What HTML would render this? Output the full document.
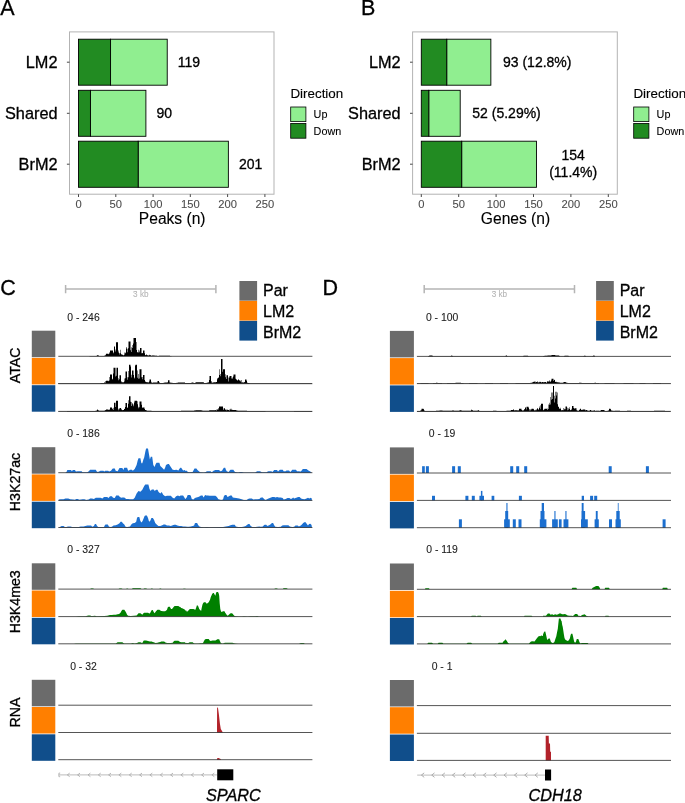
<!DOCTYPE html>
<html lang="en"><head><meta charset="utf-8"><title>Figure</title>
<style>html,body{margin:0;padding:0;background:#fff}body{width:685px;height:803px;overflow:hidden;font-family:"Liberation Sans", Arial, Helvetica, sans-serif}svg text{white-space:pre}</style></head>
<body>
<svg width="685" height="803" viewBox="0 0 685 803" font-family="'Liberation Sans', Arial, Helvetica, sans-serif" style="display:block"><rect width="685" height="803" fill="#fff"/><text x="0.2" y="15.0" font-size="21.5" fill="#000" stroke="#000" stroke-width="0.3">A</text><rect x="69.5" y="31.9" width="204.5" height="162.3" fill="#fff" stroke="#b3b3b3" stroke-width="1.0"/><rect x="110.56" y="39.20" width="56.67" height="46.00" fill="#90ee90" stroke="#000" stroke-width="0.9"/><rect x="78.50" y="39.20" width="32.06" height="46.00" fill="#228b22" stroke="#000" stroke-width="0.9"/><line x1="66.9" y1="62.2" x2="69.5" y2="62.2" stroke="#333" stroke-width="0.9"/><text x="57.5" y="67.9" font-size="16.3" text-anchor="end" fill="#000" stroke="#000" stroke-width="0.3">LM2</text><text x="177.8" y="67.1" font-size="14.0" fill="#000" stroke="#000" stroke-width="0.3">119</text><rect x="90.43" y="90.30" width="55.47" height="46.00" fill="#90ee90" stroke="#000" stroke-width="0.9"/><rect x="78.50" y="90.30" width="11.93" height="46.00" fill="#228b22" stroke="#000" stroke-width="0.9"/><line x1="66.9" y1="113.3" x2="69.5" y2="113.3" stroke="#333" stroke-width="0.9"/><text x="57.5" y="119.0" font-size="16.3" text-anchor="end" fill="#000" stroke="#000" stroke-width="0.3">Shared</text><text x="156.5" y="118.2" font-size="14.0" fill="#000" stroke="#000" stroke-width="0.3">90</text><rect x="138.15" y="141.20" width="90.22" height="46.10" fill="#90ee90" stroke="#000" stroke-width="0.9"/><rect x="78.50" y="141.20" width="59.65" height="46.10" fill="#228b22" stroke="#000" stroke-width="0.9"/><line x1="66.9" y1="164.2" x2="69.5" y2="164.2" stroke="#333" stroke-width="0.9"/><text x="57.5" y="169.9" font-size="16.3" text-anchor="end" fill="#000" stroke="#000" stroke-width="0.3">BrM2</text><text x="239.0" y="169.2" font-size="14.0" fill="#000" stroke="#000" stroke-width="0.3">201</text><line x1="78.5" y1="194.2" x2="78.5" y2="197.0" stroke="#333" stroke-width="0.9"/><text x="78.5" y="208.2" font-size="11.2" text-anchor="middle" fill="#4d4d4d" stroke="#4d4d4d" stroke-width="0.1">0</text><line x1="115.8" y1="194.2" x2="115.8" y2="197.0" stroke="#333" stroke-width="0.9"/><text x="115.8" y="208.2" font-size="11.2" text-anchor="middle" fill="#4d4d4d" stroke="#4d4d4d" stroke-width="0.1">50</text><line x1="153.1" y1="194.2" x2="153.1" y2="197.0" stroke="#333" stroke-width="0.9"/><text x="153.1" y="208.2" font-size="11.2" text-anchor="middle" fill="#4d4d4d" stroke="#4d4d4d" stroke-width="0.1">100</text><line x1="190.3" y1="194.2" x2="190.3" y2="197.0" stroke="#333" stroke-width="0.9"/><text x="190.3" y="208.2" font-size="11.2" text-anchor="middle" fill="#4d4d4d" stroke="#4d4d4d" stroke-width="0.1">150</text><line x1="227.6" y1="194.2" x2="227.6" y2="197.0" stroke="#333" stroke-width="0.9"/><text x="227.6" y="208.2" font-size="11.2" text-anchor="middle" fill="#4d4d4d" stroke="#4d4d4d" stroke-width="0.1">200</text><line x1="264.9" y1="194.2" x2="264.9" y2="197.0" stroke="#333" stroke-width="0.9"/><text x="264.9" y="208.2" font-size="11.2" text-anchor="middle" fill="#4d4d4d" stroke="#4d4d4d" stroke-width="0.1">250</text><text x="172.2" y="223.8" font-size="15.6" text-anchor="middle" fill="#000" stroke="#000" stroke-width="0.12">Peaks (n)</text><text x="290.4" y="98.3" font-size="13.4" fill="#000" stroke="#000" stroke-width="0.12">Direction</text><rect x="290.7" y="107.0" width="15.2" height="14.6" fill="#90ee90" stroke="#000" stroke-width="0.8"/><rect x="290.7" y="123.4" width="15.2" height="14.8" fill="#228b22" stroke="#000" stroke-width="0.8"/><text x="313.6" y="118.1" font-size="10.8" fill="#000" stroke="#000" stroke-width="0.1">Up</text><text x="313.6" y="134.8" font-size="10.8" fill="#000" stroke="#000" stroke-width="0.1">Down</text>
<text x="361.0" y="15.0" font-size="21.5" fill="#000" stroke="#000" stroke-width="0.3">B</text><rect x="412.6" y="31.9" width="204.7" height="162.3" fill="#fff" stroke="#b3b3b3" stroke-width="1.0"/><rect x="446.73" y="39.20" width="44.13" height="46.00" fill="#90ee90" stroke="#000" stroke-width="0.9"/><rect x="421.30" y="39.20" width="25.43" height="46.00" fill="#228b22" stroke="#000" stroke-width="0.9"/><line x1="410.0" y1="62.2" x2="412.6" y2="62.2" stroke="#333" stroke-width="0.9"/><text x="400.6" y="67.9" font-size="16.3" text-anchor="end" fill="#000" stroke="#000" stroke-width="0.3">LM2</text><text x="503.0" y="67.1" font-size="14.0" fill="#000" stroke="#000" stroke-width="0.3">93 (12.8%)</text><rect x="428.78" y="90.30" width="31.42" height="46.00" fill="#90ee90" stroke="#000" stroke-width="0.9"/><rect x="421.30" y="90.30" width="7.48" height="46.00" fill="#228b22" stroke="#000" stroke-width="0.9"/><line x1="410.0" y1="113.3" x2="412.6" y2="113.3" stroke="#333" stroke-width="0.9"/><text x="400.6" y="119.0" font-size="16.3" text-anchor="end" fill="#000" stroke="#000" stroke-width="0.3">Shared</text><text x="472.3" y="118.2" font-size="14.0" fill="#000" stroke="#000" stroke-width="0.3">52 (5.29%)</text><rect x="461.69" y="141.20" width="74.80" height="46.10" fill="#90ee90" stroke="#000" stroke-width="0.9"/><rect x="421.30" y="141.20" width="40.39" height="46.10" fill="#228b22" stroke="#000" stroke-width="0.9"/><line x1="410.0" y1="164.2" x2="412.6" y2="164.2" stroke="#333" stroke-width="0.9"/><text x="400.6" y="169.9" font-size="16.3" text-anchor="end" fill="#000" stroke="#000" stroke-width="0.3">BrM2</text><text x="573.2" y="159.8" font-size="14.0" text-anchor="middle" fill="#000" stroke="#000" stroke-width="0.3">154</text><text x="573.2" y="176.8" font-size="14.0" text-anchor="middle" fill="#000" stroke="#000" stroke-width="0.3">(11.4%)</text><line x1="421.3" y1="194.2" x2="421.3" y2="197.0" stroke="#333" stroke-width="0.9"/><text x="421.3" y="208.2" font-size="11.2" text-anchor="middle" fill="#4d4d4d" stroke="#4d4d4d" stroke-width="0.1">0</text><line x1="458.7" y1="194.2" x2="458.7" y2="197.0" stroke="#333" stroke-width="0.9"/><text x="458.7" y="208.2" font-size="11.2" text-anchor="middle" fill="#4d4d4d" stroke="#4d4d4d" stroke-width="0.1">50</text><line x1="496.1" y1="194.2" x2="496.1" y2="197.0" stroke="#333" stroke-width="0.9"/><text x="496.1" y="208.2" font-size="11.2" text-anchor="middle" fill="#4d4d4d" stroke="#4d4d4d" stroke-width="0.1">100</text><line x1="533.5" y1="194.2" x2="533.5" y2="197.0" stroke="#333" stroke-width="0.9"/><text x="533.5" y="208.2" font-size="11.2" text-anchor="middle" fill="#4d4d4d" stroke="#4d4d4d" stroke-width="0.1">150</text><line x1="570.9" y1="194.2" x2="570.9" y2="197.0" stroke="#333" stroke-width="0.9"/><text x="570.9" y="208.2" font-size="11.2" text-anchor="middle" fill="#4d4d4d" stroke="#4d4d4d" stroke-width="0.1">200</text><line x1="608.3" y1="194.2" x2="608.3" y2="197.0" stroke="#333" stroke-width="0.9"/><text x="608.3" y="208.2" font-size="11.2" text-anchor="middle" fill="#4d4d4d" stroke="#4d4d4d" stroke-width="0.1">250</text><text x="515.5" y="223.8" font-size="15.6" text-anchor="middle" fill="#000" stroke="#000" stroke-width="0.12">Genes (n)</text><text x="633.4" y="98.3" font-size="13.4" fill="#000" stroke="#000" stroke-width="0.12">Direction</text><rect x="633.7" y="107.0" width="15.2" height="14.6" fill="#90ee90" stroke="#000" stroke-width="0.8"/><rect x="633.7" y="123.4" width="15.2" height="14.8" fill="#228b22" stroke="#000" stroke-width="0.8"/><text x="656.6" y="118.1" font-size="10.8" fill="#000" stroke="#000" stroke-width="0.1">Up</text><text x="656.6" y="134.8" font-size="10.8" fill="#000" stroke="#000" stroke-width="0.1">Down</text>
<text x="0.2" y="294.7" font-size="21.5" fill="#000" stroke="#000" stroke-width="0.3">C</text><path d="M65.6 289.1H215.9 M65.6 285V293.3 M215.9 285V293.3" stroke="#b5b5b5" stroke-width="1.5" fill="none"/><text x="140.8" y="297.1" font-size="8.2" text-anchor="middle" fill="#b5b5b5" stroke="#b5b5b5" stroke-width="0.1">3 kb</text><rect x="239.4" y="281.0" width="17.7" height="19.7" fill="#6b6b6b"/><text x="263.0" y="295.7" font-size="16" fill="#000" stroke="#000" stroke-width="0.3">Par</text><rect x="239.4" y="300.9" width="17.7" height="19.7" fill="#ff7f00"/><text x="263.0" y="316.6" font-size="16" fill="#000" stroke="#000" stroke-width="0.3">LM2</text><rect x="239.4" y="320.9" width="17.7" height="19.7" fill="#104e8b"/><text x="263.0" y="337.5" font-size="16" fill="#000" stroke="#000" stroke-width="0.3">BrM2</text><rect x="31.8" y="330.7" width="23.5" height="26.5" fill="#6b6b6b"/><rect x="31.8" y="357.9" width="23.5" height="26.5" fill="#ff7f00"/><rect x="31.8" y="385.2" width="23.5" height="26.5" fill="#104e8b"/><text x="83.5" y="320.6" font-size="10.4" text-anchor="middle" fill="#1c1c1c" stroke="#1c1c1c" stroke-width="0.1">0 - 246</text><rect x="31.8" y="447.2" width="23.5" height="26.5" fill="#6b6b6b"/><rect x="31.8" y="474.4" width="23.5" height="26.5" fill="#ff7f00"/><rect x="31.8" y="501.7" width="23.5" height="26.5" fill="#104e8b"/><text x="83.5" y="437.1" font-size="10.4" text-anchor="middle" fill="#1c1c1c" stroke="#1c1c1c" stroke-width="0.1">0 - 186</text><rect x="31.8" y="563.3" width="23.5" height="26.5" fill="#6b6b6b"/><rect x="31.8" y="590.5" width="23.5" height="26.5" fill="#ff7f00"/><rect x="31.8" y="617.8" width="23.5" height="26.5" fill="#104e8b"/><text x="83.5" y="553.2" font-size="10.4" text-anchor="middle" fill="#1c1c1c" stroke="#1c1c1c" stroke-width="0.1">0 - 327</text><rect x="31.8" y="679.8" width="23.5" height="26.5" fill="#6b6b6b"/><rect x="31.8" y="707.0" width="23.5" height="26.5" fill="#ff7f00"/><rect x="31.8" y="734.3" width="23.5" height="26.5" fill="#104e8b"/><text x="83.5" y="669.7" font-size="10.4" text-anchor="middle" fill="#1c1c1c" stroke="#1c1c1c" stroke-width="0.1">0 - 32</text><text transform="translate(20.3 365.3) rotate(-90)" font-size="14.2" text-anchor="middle" fill="#000" stroke="#000" stroke-width="0.3">ATAC</text><text transform="translate(20.3 482.0) rotate(-90)" font-size="14.2" text-anchor="middle" fill="#000" stroke="#000" stroke-width="0.3">H3K27ac</text><text transform="translate(20.3 601.8) rotate(-90)" font-size="14.2" text-anchor="middle" fill="#000" stroke="#000" stroke-width="0.3">H3K4me3</text><text transform="translate(20.3 712.4) rotate(-90)" font-size="14.2" text-anchor="middle" fill="#000" stroke="#000" stroke-width="0.3">RNA</text><path d="M89.0 356.3L89.0 356.18L89.5 356.18L89.5 355.98L90.0 355.98L90.0 355.92L90.5 355.92L90.5 355.92L91.0 355.92L91.0 355.92L91.5 355.92L91.5 355.92L92.0 355.92L92.0 355.92L92.5 355.92L92.5 355.92L93.0 355.92L93.0 355.92L93.5 355.92L93.5 355.92L94.0 355.92L94.0 355.92L94.5 355.92L94.5 355.92L95.0 355.92L95.0 355.92L95.5 355.92L95.5 355.92L96.0 355.92L96.0 355.92L96.5 355.92L96.5 355.76L97.0 355.76L97.0 355.36L97.5 355.36L97.5 355.19L98.0 355.19L98.0 355.36L98.5 355.36L98.5 355.65L99.0 355.65L99.0 355.92L99.5 355.92L99.5 355.92L100.0 355.92L100.0 355.92L100.5 355.92L100.5 355.92L101.0 355.92L101.0 355.92L101.5 355.92L101.5 355.92L102.0 355.92L102.0 355.92L102.5 355.92L102.5 355.92L103.0 355.92L103.0 355.92L103.5 355.92L103.5 355.92L104.0 355.92L104.0 355.92L104.5 355.92L104.5 355.58L105.0 355.58L105.0 354.83L105.5 354.83L105.5 355.40L106.0 355.40L106.0 353.64L106.5 353.64L106.5 353.64L107.0 353.64L107.0 353.64L107.5 353.64L107.5 353.64L108.0 353.64L108.0 353.64L108.5 353.64L108.5 354.22L109.0 354.22L109.0 353.45L109.5 353.45L109.5 352.35L110.0 352.35L110.0 350.61L110.5 350.61L110.5 350.61L111.0 350.61L111.0 350.61L111.5 350.61L111.5 350.61L112.0 350.61L112.0 350.61L112.5 350.61L112.5 350.61L113.0 350.61L113.0 352.36L113.5 352.36L113.5 353.14L114.0 353.14L114.0 346.43L114.5 346.43L114.5 346.43L115.0 346.43L115.0 349.61L115.5 349.61L115.5 351.49L116.0 351.49L116.0 342.26L116.5 342.26L116.5 342.26L117.0 342.26L117.0 342.26L117.5 342.26L117.5 342.26L118.0 342.26L118.0 350.60L118.5 350.60L118.5 352.47L119.0 352.47L119.0 354.53L119.5 354.53L119.5 353.01L120.0 353.01L120.0 349.73L120.5 349.73L120.5 353.13L121.0 353.13L121.0 354.72L121.5 354.72L121.5 354.02L122.0 354.02L122.0 354.57L122.5 354.57L122.5 355.02L123.0 355.02L123.0 355.37L123.5 355.37L123.5 355.20L124.0 355.20L124.0 354.64L124.5 354.64L124.5 352.50L125.0 352.50L125.0 352.60L125.5 352.60L125.5 353.23L126.0 353.23L126.0 346.99L126.5 346.99L126.5 348.50L127.0 348.50L127.0 352.26L127.5 352.26L127.5 348.81L128.0 348.81L128.0 348.29L128.5 348.29L128.5 341.50L129.0 341.50L129.0 341.50L129.5 341.50L129.5 341.50L130.0 341.50L130.0 341.50L130.5 341.50L130.5 350.25L131.0 350.25L131.0 352.05L131.5 352.05L131.5 347.14L132.0 347.14L132.0 344.96L132.5 344.96L132.5 347.98L133.0 347.98L133.0 343.47L133.5 343.47L133.5 338.08L134.0 338.08L134.0 338.08L134.5 338.08L134.5 338.08L135.0 338.08L135.0 338.08L135.5 338.08L135.5 338.08L136.0 338.08L136.0 342.04L136.5 342.04L136.5 350.02L137.0 350.02L137.0 352.36L137.5 352.36L137.5 352.36L138.0 352.36L138.0 349.70L138.5 349.70L138.5 352.42L139.0 352.42L139.0 352.30L139.5 352.30L139.5 350.55L140.0 350.55L140.0 347.95L140.5 347.95L140.5 347.95L141.0 347.95L141.0 347.95L141.5 347.95L141.5 353.26L142.0 353.26L142.0 353.32L142.5 353.32L142.5 353.02L143.0 353.02L143.0 350.61L143.5 350.61L143.5 350.61L144.0 350.61L144.0 350.61L144.5 350.61L144.5 353.18L145.0 353.18L145.0 355.16L145.5 355.16L145.5 355.05L146.0 355.05L146.0 354.44L146.5 354.44L146.5 354.74L147.0 354.74L147.0 355.16L147.5 355.16L147.5 355.31L148.0 355.31L148.0 355.46L148.5 355.46L148.5 355.61L149.0 355.61L149.0 355.22L149.5 355.22L149.5 354.82L150.0 354.82L150.0 354.94L150.5 354.94L150.5 355.44L151.0 355.44L151.0 355.69L151.5 355.69L151.5 355.66L152.0 355.66L152.0 355.62L152.5 355.62L152.5 355.59L153.0 355.59L153.0 355.56L153.5 355.56L153.5 355.54L154.0 355.54L154.0 355.58L154.5 355.58L154.5 355.63L155.0 355.63L155.0 355.68L155.5 355.68L155.5 355.73L156.0 355.73L156.0 355.78L156.5 355.78L156.5 355.83L157.0 355.83L157.0 355.88L157.5 355.88L157.5 355.91L158.0 355.91L158.0 355.90L158.5 355.90L158.5 355.88L159.0 355.88L159.0 355.87L159.5 355.87L159.5 355.86L160.0 355.86L160.0 355.85L160.5 355.85L160.5 355.83L161.0 355.83L161.0 355.82L161.5 355.82L161.5 355.81L162.0 355.81L162.0 355.80L162.5 355.80L162.5 355.78L163.0 355.78L163.0 355.77L163.5 355.77L163.5 355.76L164.0 355.76L164.0 355.75L164.5 355.75L164.5 355.73L165.0 355.73L165.0 355.73L165.5 355.73L165.5 355.73L166.0 355.73L166.0 355.73L166.5 355.73L166.5 355.73L167.0 355.73L167.0 355.73L167.5 355.73L167.5 355.73L168.0 355.73L168.0 355.73L168.5 355.73L168.5 355.73L169.0 355.73L169.0 355.76L169.5 355.76L169.5 355.83L170.0 355.83L170.0 355.91L170.5 355.91L170.5 355.98L171.0 355.98L171.0 356.06L171.5 356.06L171.5 356.13L172.0 356.13L172.0 356.21L172.5 356.21L172.5 356.28L173.0 356.28L173.0 356.3 Z" fill="#000"/><path d="M58.0 383.7L58.0 383.32L58.5 383.32L58.5 383.32L59.0 383.32L59.0 383.30L59.5 383.30L59.5 383.29L60.0 383.29L60.0 383.28L60.5 383.28L60.5 383.27L61.0 383.27L61.0 383.25L61.5 383.25L61.5 383.24L62.0 383.24L62.0 383.23L62.5 383.23L62.5 383.22L63.0 383.22L63.0 383.20L63.5 383.20L63.5 383.19L64.0 383.19L64.0 383.18L64.5 383.18L64.5 383.17L65.0 383.17L65.0 383.15L65.5 383.15L65.5 383.14L66.0 383.14L66.0 383.13L66.5 383.13L66.5 383.13L67.0 383.13L67.0 383.15L67.5 383.15L67.5 383.16L68.0 383.16L68.0 383.17L68.5 383.17L68.5 383.18L69.0 383.18L69.0 383.20L69.5 383.20L69.5 383.21L70.0 383.21L70.0 383.22L70.5 383.22L70.5 383.23L71.0 383.23L71.0 383.25L71.5 383.25L71.5 383.26L72.0 383.26L72.0 383.27L72.5 383.27L72.5 383.28L73.0 383.28L73.0 383.30L73.5 383.30L73.5 383.31L74.0 383.31L74.0 383.31L74.5 383.31L74.5 383.30L75.0 383.30L75.0 383.28L75.5 383.28L75.5 383.27L76.0 383.27L76.0 383.26L76.5 383.26L76.5 383.25L77.0 383.25L77.0 383.23L77.5 383.23L77.5 383.22L78.0 383.22L78.0 383.21L78.5 383.21L78.5 383.20L79.0 383.20L79.0 383.18L79.5 383.18L79.5 383.17L80.0 383.17L80.0 383.16L80.5 383.16L80.5 383.15L81.0 383.15L81.0 383.13L81.5 383.13L81.5 383.13L82.0 383.13L82.0 383.14L82.5 383.14L82.5 383.15L83.0 383.15L83.0 383.16L83.5 383.16L83.5 383.16L84.0 383.16L84.0 383.17L84.5 383.17L84.5 383.18L85.0 383.18L85.0 383.19L85.5 383.19L85.5 383.20L86.0 383.20L86.0 383.21L86.5 383.21L86.5 383.21L87.0 383.21L87.0 383.22L87.5 383.22L87.5 383.23L88.0 383.23L88.0 383.24L88.5 383.24L88.5 383.25L89.0 383.25L89.0 383.26L89.5 383.26L89.5 383.26L90.0 383.26L90.0 383.27L90.5 383.27L90.5 383.28L91.0 383.28L91.0 383.29L91.5 383.29L91.5 383.30L92.0 383.30L92.0 383.31L92.5 383.31L92.5 383.31L93.0 383.31L93.0 383.31L93.5 383.31L93.5 383.30L94.0 383.30L94.0 383.28L94.5 383.28L94.5 383.27L95.0 383.27L95.0 383.26L95.5 383.26L95.5 383.25L96.0 383.25L96.0 383.23L96.5 383.23L96.5 383.22L97.0 383.22L97.0 383.21L97.5 383.21L97.5 383.20L98.0 383.20L98.0 383.18L98.5 383.18L98.5 383.17L99.0 383.17L99.0 383.16L99.5 383.16L99.5 383.15L100.0 383.15L100.0 383.13L100.5 383.13L100.5 383.11L101.0 383.11L101.0 383.09L101.5 383.09L101.5 383.06L102.0 383.06L102.0 383.04L102.5 383.04L102.5 383.01L103.0 383.01L103.0 382.99L103.5 382.99L103.5 382.96L104.0 382.96L104.0 382.81L104.5 382.81L104.5 382.21L105.0 382.21L105.0 382.74L105.5 382.74L105.5 381.08L106.0 381.08L106.0 380.66L106.5 380.66L106.5 380.66L107.0 380.66L107.0 380.66L107.5 380.66L107.5 380.66L108.0 380.66L108.0 380.66L108.5 380.66L108.5 381.34L109.0 381.34L109.0 380.62L109.5 380.62L109.5 377.01L110.0 377.01L110.0 374.59L110.5 374.59L110.5 374.59L111.0 374.59L111.0 374.59L111.5 374.59L111.5 374.59L112.0 374.59L112.0 378.74L112.5 378.74L112.5 379.59L113.0 379.59L113.0 373.52L113.5 373.52L113.5 367.76L114.0 367.76L114.0 367.76L114.5 367.76L114.5 367.76L115.0 367.76L115.0 367.76L115.5 367.76L115.5 376.39L116.0 376.39L116.0 375.69L116.5 375.69L116.5 367.76L117.0 367.76L117.0 367.76L117.5 367.76L117.5 367.76L118.0 367.76L118.0 378.13L118.5 378.13L118.5 380.28L119.0 380.28L119.0 379.37L119.5 379.37L119.5 375.35L120.0 375.35L120.0 375.35L120.5 375.35L120.5 375.35L121.0 375.35L121.0 381.25L121.5 381.25L121.5 382.26L122.0 382.26L122.0 382.29L122.5 382.29L122.5 382.17L123.0 382.17L123.0 382.34L123.5 382.34L123.5 382.20L124.0 382.20L124.0 381.48L124.5 381.48L124.5 378.60L125.0 378.60L125.0 378.15L125.5 378.15L125.5 371.55L126.0 371.55L126.0 371.55L126.5 371.55L126.5 371.55L127.0 371.55L127.0 377.26L127.5 377.26L127.5 379.80L128.0 379.80L128.0 377.19L128.5 377.19L128.5 370.89L129.0 370.89L129.0 364.72L129.5 364.72L129.5 364.72L130.0 364.72L130.0 364.72L130.5 364.72L130.5 366.47L131.0 366.47L131.0 377.44L131.5 377.44L131.5 374.68L132.0 374.68L132.0 370.42L132.5 370.42L132.5 370.42L133.0 370.42L133.0 370.42L133.5 370.42L133.5 375.11L134.0 375.11L134.0 378.53L134.5 378.53L134.5 377.40L135.0 377.40L135.0 365.60L135.5 365.60L135.5 364.72L136.0 364.72L136.0 364.72L136.5 364.72L136.5 364.72L137.0 364.72L137.0 370.41L137.5 370.41L137.5 377.69L138.0 377.69L138.0 374.11L138.5 374.11L138.5 378.70L139.0 378.70L139.0 378.38L139.5 378.38L139.5 369.28L140.0 369.28L140.0 369.28L140.5 369.28L140.5 369.28L141.0 369.28L141.0 369.28L141.5 369.28L141.5 377.37L142.0 377.37L142.0 379.33L142.5 379.33L142.5 376.97L143.0 376.97L143.0 374.97L143.5 374.97L143.5 374.97L144.0 374.97L144.0 374.97L144.5 374.97L144.5 380.01L145.0 380.01L145.0 381.17L145.5 381.17L145.5 381.98L146.0 381.98L146.0 381.88L146.5 381.88L146.5 382.31L147.0 382.31L147.0 382.28L147.5 382.28L147.5 382.26L148.0 382.26L148.0 382.39L148.5 382.39L148.5 382.20L149.0 382.20L149.0 381.48L149.5 381.48L149.5 379.52L150.0 379.52L150.0 379.52L150.5 379.52L150.5 379.52L151.0 379.52L151.0 381.66L151.5 381.66L151.5 382.85L152.0 382.85L152.0 382.77L152.5 382.77L152.5 382.68L153.0 382.68L153.0 382.60L153.5 382.60L153.5 382.56L154.0 382.56L154.0 382.56L154.5 382.56L154.5 382.56L155.0 382.56L155.0 382.56L155.5 382.56L155.5 382.56L156.0 382.56L156.0 382.56L156.5 382.56L156.5 382.56L157.0 382.56L157.0 382.56L157.5 382.56L157.5 381.04L158.0 381.04L158.0 381.04L158.5 381.04L158.5 381.04L159.0 381.04L159.0 382.12L159.5 382.12L159.5 382.95L160.0 382.95L160.0 382.99L160.5 382.99L160.5 383.02L161.0 383.02L161.0 383.05L161.5 383.05L161.5 383.09L162.0 383.09L162.0 383.09L162.5 383.09L162.5 382.99L163.0 382.99L163.0 382.89L163.5 382.89L163.5 382.79L164.0 382.79L164.0 382.69L164.5 382.69L164.5 382.59L165.0 382.59L165.0 382.56L165.5 382.56L165.5 382.56L166.0 382.56L166.0 382.56L166.5 382.56L166.5 382.56L167.0 382.56L167.0 382.39L167.5 382.39L167.5 382.19L168.0 382.19L168.0 380.28L168.5 380.28L168.5 380.28L169.0 380.28L169.0 380.28L169.5 380.28L169.5 382.52L170.0 382.52L170.0 382.57L170.5 382.57L170.5 382.64L171.0 382.64L171.0 382.71L171.5 382.71L171.5 382.78L172.0 382.78L172.0 382.85L172.5 382.85L172.5 382.92L173.0 382.92L173.0 382.94L173.5 382.94L173.5 382.94L174.0 382.94L174.0 382.94L174.5 382.94L174.5 382.94L175.0 382.94L175.0 382.94L175.5 382.94L175.5 382.94L176.0 382.94L176.0 382.94L176.5 382.94L176.5 382.84L177.0 382.84L177.0 382.74L177.5 382.74L177.5 382.64L178.0 382.64L178.0 382.56L178.5 382.56L178.5 382.56L179.0 382.56L179.0 382.56L179.5 382.56L179.5 382.56L180.0 382.56L180.0 382.56L180.5 382.56L180.5 382.56L181.0 382.56L181.0 382.56L181.5 382.56L181.5 382.56L182.0 382.56L182.0 382.56L182.5 382.56L182.5 382.56L183.0 382.56L183.0 382.56L183.5 382.56L183.5 382.56L184.0 382.56L184.0 382.56L184.5 382.56L184.5 382.56L185.0 382.56L185.0 382.94L185.5 382.94L185.5 382.94L186.0 382.94L186.0 382.94L186.5 382.94L186.5 382.94L187.0 382.94L187.0 382.94L187.5 382.94L187.5 382.94L188.0 382.94L188.0 382.94L188.5 382.94L188.5 382.94L189.0 382.94L189.0 382.94L189.5 382.94L189.5 382.94L190.0 382.94L190.0 382.94L190.5 382.94L190.5 382.89L191.0 382.89L191.0 382.79L191.5 382.79L191.5 382.69L192.0 382.69L192.0 382.59L192.5 382.59L192.5 382.57L193.0 382.57L193.0 382.70L193.5 382.70L193.5 382.85L194.0 382.85L194.0 383.00L194.5 383.00L194.5 382.90L195.0 382.90L195.0 382.65L195.5 382.65L195.5 382.40L196.0 382.40L196.0 382.18L196.5 382.18L196.5 382.18L197.0 382.18L197.0 382.18L197.5 382.18L197.5 382.18L198.0 382.18L198.0 382.18L198.5 382.18L198.5 382.18L199.0 382.18L199.0 382.18L199.5 382.18L199.5 382.18L200.0 382.18L200.0 382.18L200.5 382.18L200.5 382.18L201.0 382.18L201.0 382.18L201.5 382.18L201.5 382.18L202.0 382.18L202.0 382.18L202.5 382.18L202.5 382.18L203.0 382.18L203.0 382.20L203.5 382.20L203.5 382.60L204.0 382.60L204.0 382.95L204.5 382.95L204.5 383.00L205.0 383.00L205.0 383.05L205.5 383.05L205.5 383.10L206.0 383.10L206.0 382.96L206.5 382.96L206.5 382.81L207.0 382.81L207.0 382.66L207.5 382.66L207.5 382.52L208.0 382.52L208.0 382.39L208.5 382.39L208.5 382.27L209.0 382.27L209.0 380.02L209.5 380.02L209.5 376.11L210.0 376.11L210.0 376.11L210.5 376.11L210.5 376.11L211.0 376.11L211.0 380.89L211.5 380.89L211.5 382.55L212.0 382.55L212.0 382.39L212.5 382.39L212.5 382.67L213.0 382.67L213.0 382.45L213.5 382.45L213.5 382.18L214.0 382.18L214.0 382.18L214.5 382.18L214.5 382.18L215.0 382.18L215.0 382.18L215.5 382.18L215.5 382.18L216.0 382.18L216.0 381.93L216.5 381.93L216.5 381.97L217.0 381.97L217.0 378.01L217.5 378.01L217.5 379.17L218.0 379.17L218.0 377.82L218.5 377.82L218.5 377.42L219.0 377.42L219.0 369.28L219.5 369.28L219.5 375.02L220.0 375.02L220.0 376.14L220.5 376.14L220.5 374.12L221.0 374.12L221.0 359.03L221.5 359.03L221.5 359.03L222.0 359.03L222.0 359.03L222.5 359.03L222.5 371.85L223.0 371.85L223.0 369.28L223.5 369.28L223.5 369.28L224.0 369.28L224.0 369.28L224.5 369.28L224.5 369.28L225.0 369.28L225.0 374.16L225.5 374.16L225.5 377.19L226.0 377.19L226.0 378.99L226.5 378.99L226.5 375.35L227.0 375.35L227.0 375.35L227.5 375.35L227.5 375.35L228.0 375.35L228.0 377.47L228.5 377.47L228.5 381.51L229.0 381.51L229.0 377.43L229.5 377.43L229.5 376.11L230.0 376.11L230.0 376.11L230.5 376.11L230.5 376.11L231.0 376.11L231.0 376.11L231.5 376.11L231.5 378.58L232.0 378.58L232.0 377.53L232.5 377.53L232.5 378.80L233.0 378.80L233.0 376.49L233.5 376.49L233.5 374.59L234.0 374.59L234.0 374.59L234.5 374.59L234.5 374.59L235.0 374.59L235.0 374.59L235.5 374.59L235.5 378.69L236.0 378.69L236.0 379.49L236.5 379.49L236.5 379.43L237.0 379.43L237.0 380.31L237.5 380.31L237.5 380.46L238.0 380.46L238.0 379.52L238.5 379.52L238.5 379.52L239.0 379.52L239.0 380.20L239.5 380.20L239.5 380.54L240.0 380.54L240.0 381.61L240.5 381.61L240.5 380.58L241.0 380.58L241.0 379.92L241.5 379.92L241.5 382.58L242.0 382.58L242.0 382.24L242.5 382.24L242.5 382.49L243.0 382.49L243.0 382.56L243.5 382.56L243.5 382.56L244.0 382.56L244.0 382.15L244.5 382.15L244.5 381.95L245.0 381.95L245.0 379.52L245.5 379.52L245.5 379.52L246.0 379.52L246.0 379.52L246.5 379.52L246.5 380.85L247.0 380.85L247.0 382.53L247.5 382.53L247.5 382.97L248.0 382.97L248.0 383.01L248.5 383.01L248.5 383.05L249.0 383.05L249.0 383.09L249.5 383.09L249.5 383.13L250.0 383.13L250.0 383.14L250.5 383.14L250.5 383.15L251.0 383.15L251.0 383.16L251.5 383.16L251.5 383.16L252.0 383.16L252.0 383.17L252.5 383.17L252.5 383.18L253.0 383.18L253.0 383.19L253.5 383.19L253.5 383.20L254.0 383.20L254.0 383.21L254.5 383.21L254.5 383.21L255.0 383.21L255.0 383.22L255.5 383.22L255.5 383.23L256.0 383.23L256.0 383.24L256.5 383.24L256.5 383.25L257.0 383.25L257.0 383.26L257.5 383.26L257.5 383.26L258.0 383.26L258.0 383.27L258.5 383.27L258.5 383.28L259.0 383.28L259.0 383.29L259.5 383.29L259.5 383.30L260.0 383.30L260.0 383.31L260.5 383.31L260.5 383.31L261.0 383.31L261.0 383.31L261.5 383.31L261.5 383.31L262.0 383.31L262.0 383.30L262.5 383.30L262.5 383.29L263.0 383.29L263.0 383.28L263.5 383.28L263.5 383.28L264.0 383.28L264.0 383.27L264.5 383.27L264.5 383.26L265.0 383.26L265.0 383.26L265.5 383.26L265.5 383.25L266.0 383.25L266.0 383.24L266.5 383.24L266.5 383.23L267.0 383.23L267.0 383.23L267.5 383.23L267.5 383.22L268.0 383.22L268.0 383.21L268.5 383.21L268.5 383.21L269.0 383.21L269.0 383.20L269.5 383.20L269.5 383.19L270.0 383.19L270.0 383.18L270.5 383.18L270.5 383.18L271.0 383.18L271.0 383.17L271.5 383.17L271.5 383.16L272.0 383.16L272.0 383.16L272.5 383.16L272.5 383.15L273.0 383.15L273.0 383.14L273.5 383.14L273.5 383.13L274.0 383.13L274.0 383.13L274.5 383.13L274.5 383.14L275.0 383.14L275.0 383.14L275.5 383.14L275.5 383.15L276.0 383.15L276.0 383.16L276.5 383.16L276.5 383.16L277.0 383.16L277.0 383.17L277.5 383.17L277.5 383.18L278.0 383.18L278.0 383.19L278.5 383.19L278.5 383.19L279.0 383.19L279.0 383.20L279.5 383.20L279.5 383.21L280.0 383.21L280.0 383.21L280.5 383.21L280.5 383.22L281.0 383.22L281.0 383.23L281.5 383.23L281.5 383.24L282.0 383.24L282.0 383.24L282.5 383.24L282.5 383.25L283.0 383.25L283.0 383.26L283.5 383.26L283.5 383.26L284.0 383.26L284.0 383.27L284.5 383.27L284.5 383.28L285.0 383.28L285.0 383.29L285.5 383.29L285.5 383.29L286.0 383.29L286.0 383.30L286.5 383.30L286.5 383.31L287.0 383.31L287.0 383.31L287.5 383.31L287.5 383.31L288.0 383.31L288.0 383.30L288.5 383.30L288.5 383.30L289.0 383.30L289.0 383.29L289.5 383.29L289.5 383.28L290.0 383.28L290.0 383.27L290.5 383.27L290.5 383.26L291.0 383.26L291.0 383.25L291.5 383.25L291.5 383.25L292.0 383.25L292.0 383.24L292.5 383.24L292.5 383.23L293.0 383.23L293.0 383.22L293.5 383.22L293.5 383.21L294.0 383.21L294.0 383.20L294.5 383.20L294.5 383.20L295.0 383.20L295.0 383.19L295.5 383.19L295.5 383.18L296.0 383.18L296.0 383.17L296.5 383.17L296.5 383.16L297.0 383.16L297.0 383.15L297.5 383.15L297.5 383.15L298.0 383.15L298.0 383.14L298.5 383.14L298.5 383.13L299.0 383.13L299.0 383.13L299.5 383.13L299.5 383.14L300.0 383.14L300.0 383.15L300.5 383.15L300.5 383.16L301.0 383.16L301.0 383.16L301.5 383.16L301.5 383.17L302.0 383.17L302.0 383.18L302.5 383.18L302.5 383.18L303.0 383.18L303.0 383.19L303.5 383.19L303.5 383.20L304.0 383.20L304.0 383.21L304.5 383.21L304.5 383.21L305.0 383.21L305.0 383.22L305.5 383.22L305.5 383.23L306.0 383.23L306.0 383.24L306.5 383.24L306.5 383.24L307.0 383.24L307.0 383.25L307.5 383.25L307.5 383.26L308.0 383.26L308.0 383.27L308.5 383.27L308.5 383.27L309.0 383.27L309.0 383.28L309.5 383.28L309.5 383.29L310.0 383.29L310.0 383.30L310.5 383.30L310.5 383.30L311.0 383.30L311.0 383.31L311.5 383.31L311.5 383.32L312.0 383.32L312.0 383.7 Z" fill="#000"/><path d="M58.0 411.4L58.0 411.21L58.5 411.21L58.5 411.21L59.0 411.21L59.0 411.20L59.5 411.20L59.5 411.20L60.0 411.20L60.0 411.19L60.5 411.19L60.5 411.19L61.0 411.19L61.0 411.18L61.5 411.18L61.5 411.18L62.0 411.18L62.0 411.17L62.5 411.17L62.5 411.17L63.0 411.17L63.0 411.16L63.5 411.16L63.5 411.16L64.0 411.16L64.0 411.15L64.5 411.15L64.5 411.15L65.0 411.15L65.0 411.14L65.5 411.14L65.5 411.14L66.0 411.14L66.0 411.13L66.5 411.13L66.5 411.13L67.0 411.13L67.0 411.12L67.5 411.12L67.5 411.12L68.0 411.12L68.0 411.11L68.5 411.11L68.5 411.11L69.0 411.11L69.0 411.10L69.5 411.10L69.5 411.10L70.0 411.10L70.0 411.09L70.5 411.09L70.5 411.09L71.0 411.09L71.0 411.08L71.5 411.08L71.5 411.08L72.0 411.08L72.0 411.07L72.5 411.07L72.5 411.07L73.0 411.07L73.0 411.06L73.5 411.06L73.5 411.06L74.0 411.06L74.0 411.05L74.5 411.05L74.5 411.05L75.0 411.05L75.0 411.04L75.5 411.04L75.5 411.04L76.0 411.04L76.0 411.03L76.5 411.03L76.5 411.03L77.0 411.03L77.0 411.02L77.5 411.02L77.5 411.02L78.0 411.02L78.0 411.02L78.5 411.02L78.5 411.02L79.0 411.02L79.0 411.02L79.5 411.02L79.5 411.02L80.0 411.02L80.0 411.02L80.5 411.02L80.5 411.02L81.0 411.02L81.0 411.02L81.5 411.02L81.5 411.02L82.0 411.02L82.0 411.02L82.5 411.02L82.5 411.02L83.0 411.02L83.0 411.02L83.5 411.02L83.5 411.02L84.0 411.02L84.0 411.02L84.5 411.02L84.5 411.02L85.0 411.02L85.0 411.02L85.5 411.02L85.5 411.02L86.0 411.02L86.0 411.02L86.5 411.02L86.5 411.02L87.0 411.02L87.0 411.02L87.5 411.02L87.5 411.02L88.0 411.02L88.0 411.02L88.5 411.02L88.5 411.02L89.0 411.02L89.0 411.02L89.5 411.02L89.5 411.02L90.0 411.02L90.0 411.02L90.5 411.02L90.5 411.02L91.0 411.02L91.0 411.02L91.5 411.02L91.5 411.02L92.0 411.02L92.0 411.02L92.5 411.02L92.5 411.02L93.0 411.02L93.0 411.00L93.5 411.00L93.5 410.97L94.0 410.97L94.0 410.95L94.5 410.95L94.5 410.92L95.0 410.92L95.0 410.90L95.5 410.90L95.5 410.87L96.0 410.87L96.0 410.85L96.5 410.85L96.5 410.55L97.0 410.55L97.0 409.85L97.5 409.85L97.5 409.57L98.0 409.57L98.0 409.99L98.5 409.99L98.5 410.69L99.0 410.69L99.0 410.83L99.5 410.83L99.5 410.83L100.0 410.83L100.0 410.83L100.5 410.83L100.5 410.83L101.0 410.83L101.0 410.83L101.5 410.83L101.5 410.83L102.0 410.83L102.0 410.83L102.5 410.83L102.5 410.83L103.0 410.83L103.0 410.83L103.5 410.83L103.5 410.83L104.0 410.83L104.0 410.76L104.5 410.76L104.5 410.41L105.0 410.41L105.0 410.06L105.5 410.06L105.5 410.18L106.0 410.18L106.0 409.50L106.5 409.50L106.5 409.50L107.0 409.50L107.0 409.50L107.5 409.50L107.5 409.50L108.0 409.50L108.0 409.50L108.5 409.50L108.5 409.96L109.0 409.96L109.0 409.70L109.5 409.70L109.5 409.53L110.0 409.53L110.0 407.60L110.5 407.60L110.5 407.60L111.0 407.60L111.0 407.60L111.5 407.60L111.5 407.60L112.0 407.60L112.0 408.57L112.5 408.57L112.5 409.13L113.0 409.13L113.0 409.94L113.5 409.94L113.5 407.72L114.0 407.72L114.0 402.67L114.5 402.67L114.5 402.67L115.0 402.67L115.0 402.67L115.5 402.67L115.5 406.96L116.0 406.96L116.0 400.77L116.5 400.77L116.5 400.77L117.0 400.77L117.0 400.77L117.5 400.77L117.5 400.77L118.0 400.77L118.0 408.68L118.5 408.68L118.5 410.34L119.0 410.34L119.0 409.31L119.5 409.31L119.5 407.98L120.0 407.98L120.0 407.98L120.5 407.98L120.5 407.98L121.0 407.98L121.0 408.80L121.5 408.80L121.5 409.75L122.0 409.75L122.0 409.96L122.5 409.96L122.5 410.13L123.0 410.13L123.0 410.09L123.5 410.09L123.5 409.93L124.0 409.93L124.0 408.78L124.5 408.78L124.5 409.11L125.0 409.11L125.0 406.97L125.5 406.97L125.5 403.05L126.0 403.05L126.0 403.05L126.5 403.05L126.5 403.05L127.0 403.05L127.0 407.83L127.5 407.83L127.5 407.39L128.0 407.39L128.0 403.77L128.5 403.77L128.5 400.27L129.0 400.27L129.0 396.22L129.5 396.22L129.5 396.22L130.0 396.22L130.0 396.22L130.5 396.22L130.5 401.77L131.0 401.77L131.0 401.93L131.5 401.93L131.5 406.06L132.0 406.06L132.0 403.08L132.5 403.08L132.5 404.30L133.0 404.30L133.0 406.34L133.5 406.34L133.5 404.49L134.0 404.49L134.0 402.61L134.5 402.61L134.5 400.77L135.0 400.77L135.0 400.77L135.5 400.77L135.5 400.77L136.0 400.77L136.0 400.77L136.5 400.77L136.5 400.77L137.0 400.77L137.0 401.26L137.5 401.26L137.5 404.25L138.0 404.25L138.0 408.25L138.5 408.25L138.5 406.75L139.0 406.75L139.0 407.37L139.5 407.37L139.5 401.53L140.0 401.53L140.0 401.53L140.5 401.53L140.5 401.53L141.0 401.53L141.0 401.53L141.5 401.53L141.5 404.74L142.0 404.74L142.0 407.87L142.5 407.87L142.5 407.60L143.0 407.60L143.0 407.60L143.5 407.60L143.5 407.60L144.0 407.60L144.0 407.60L144.5 407.60L144.5 408.89L145.0 408.89L145.0 409.89L145.5 409.89L145.5 409.99L146.0 409.99L146.0 410.24L146.5 410.24L146.5 410.49L147.0 410.49L147.0 410.65L147.5 410.65L147.5 410.68L148.0 410.68L148.0 410.71L148.5 410.71L148.5 410.74L149.0 410.74L149.0 410.76L149.5 410.76L149.5 410.79L150.0 410.79L150.0 410.82L150.5 410.82L150.5 410.85L151.0 410.85L151.0 410.87L151.5 410.87L151.5 410.90L152.0 410.90L152.0 410.93L152.5 410.93L152.5 410.96L153.0 410.96L153.0 410.99L153.5 410.99L153.5 411.01L154.0 411.01L154.0 411.02L154.5 411.02L154.5 411.02L155.0 411.02L155.0 411.02L155.5 411.02L155.5 411.02L156.0 411.02L156.0 411.02L156.5 411.02L156.5 411.02L157.0 411.02L157.0 411.02L157.5 411.02L157.5 411.02L158.0 411.02L158.0 411.02L158.5 411.02L158.5 411.02L159.0 411.02L159.0 411.02L159.5 411.02L159.5 411.02L160.0 411.02L160.0 411.02L160.5 411.02L160.5 411.02L161.0 411.02L161.0 411.02L161.5 411.02L161.5 411.02L162.0 411.02L162.0 411.02L162.5 411.02L162.5 411.02L163.0 411.02L163.0 411.02L163.5 411.02L163.5 411.02L164.0 411.02L164.0 411.02L164.5 411.02L164.5 411.02L165.0 411.02L165.0 411.02L165.5 411.02L165.5 411.02L166.0 411.02L166.0 411.02L166.5 411.02L166.5 411.02L167.0 411.02L167.0 411.02L167.5 411.02L167.5 411.02L168.0 411.02L168.0 411.02L168.5 411.02L168.5 411.02L169.0 411.02L169.0 411.01L169.5 411.01L169.5 411.01L170.0 411.01L170.0 411.00L170.5 411.00L170.5 411.00L171.0 411.00L171.0 410.99L171.5 410.99L171.5 410.98L172.0 410.98L172.0 410.98L172.5 410.98L172.5 410.97L173.0 410.97L173.0 410.97L173.5 410.97L173.5 410.96L174.0 410.96L174.0 410.95L174.5 410.95L174.5 410.95L175.0 410.95L175.0 410.94L175.5 410.94L175.5 410.94L176.0 410.94L176.0 410.93L176.5 410.93L176.5 410.93L177.0 410.93L177.0 410.92L177.5 410.92L177.5 410.91L178.0 410.91L178.0 410.91L178.5 410.91L178.5 410.90L179.0 410.90L179.0 410.90L179.5 410.90L179.5 410.89L180.0 410.89L180.0 410.88L180.5 410.88L180.5 410.88L181.0 410.88L181.0 410.87L181.5 410.87L181.5 410.87L182.0 410.87L182.0 410.86L182.5 410.86L182.5 410.85L183.0 410.85L183.0 410.85L183.5 410.85L183.5 410.84L184.0 410.84L184.0 410.84L184.5 410.84L184.5 410.83L185.0 410.83L185.0 410.83L185.5 410.83L185.5 410.83L186.0 410.83L186.0 410.83L186.5 410.83L186.5 410.83L187.0 410.83L187.0 410.83L187.5 410.83L187.5 410.83L188.0 410.83L188.0 410.83L188.5 410.83L188.5 410.83L189.0 410.83L189.0 410.83L189.5 410.83L189.5 410.83L190.0 410.83L190.0 410.83L190.5 410.83L190.5 410.83L191.0 410.83L191.0 410.83L191.5 410.83L191.5 410.83L192.0 410.83L192.0 410.83L192.5 410.83L192.5 410.78L193.0 410.78L193.0 410.70L193.5 410.70L193.5 410.63L194.0 410.63L194.0 410.55L194.5 410.55L194.5 410.48L195.0 410.48L195.0 410.40L195.5 410.40L195.5 410.33L196.0 410.33L196.0 410.26L196.5 410.26L196.5 410.26L197.0 410.26L197.0 410.26L197.5 410.26L197.5 410.26L198.0 410.26L198.0 410.26L198.5 410.26L198.5 410.26L199.0 410.26L199.0 410.26L199.5 410.26L199.5 410.26L200.0 410.26L200.0 410.26L200.5 410.26L200.5 410.26L201.0 410.26L201.0 410.26L201.5 410.26L201.5 410.39L202.0 410.39L202.0 410.54L202.5 410.54L202.5 410.69L203.0 410.69L203.0 410.83L203.5 410.83L203.5 410.83L204.0 410.83L204.0 410.83L204.5 410.83L204.5 410.83L205.0 410.83L205.0 410.83L205.5 410.83L205.5 410.83L206.0 410.83L206.0 410.83L206.5 410.83L206.5 410.83L207.0 410.83L207.0 410.83L207.5 410.83L207.5 410.83L208.0 410.83L208.0 410.83L208.5 410.83L208.5 410.69L209.0 410.69L209.0 410.39L209.5 410.39L209.5 410.26L210.0 410.26L210.0 410.26L210.5 410.26L210.5 410.26L211.0 410.26L211.0 410.26L211.5 410.26L211.5 410.26L212.0 410.26L212.0 410.26L212.5 410.26L212.5 410.26L213.0 410.26L213.0 410.26L213.5 410.26L213.5 410.26L214.0 410.26L214.0 410.26L214.5 410.26L214.5 410.26L215.0 410.26L215.0 410.23L215.5 410.23L215.5 410.03L216.0 410.03L216.0 410.72L216.5 410.72L216.5 409.58L217.0 409.58L217.0 409.12L217.5 409.12L217.5 410.04L218.0 410.04L218.0 409.50L218.5 409.50L218.5 407.95L219.0 407.95L219.0 406.47L219.5 406.47L219.5 406.47L220.0 406.47L220.0 406.47L220.5 406.47L220.5 406.47L221.0 406.47L221.0 406.47L221.5 406.47L221.5 406.47L222.0 406.47L222.0 406.47L222.5 406.47L222.5 406.47L223.0 406.47L223.0 408.58L223.5 408.58L223.5 410.00L224.0 410.00L224.0 408.36L224.5 408.36L224.5 408.36L225.0 408.36L225.0 409.61L225.5 409.61L225.5 409.84L226.0 409.84L226.0 410.54L226.5 410.54L226.5 409.50L227.0 409.50L227.0 409.86L227.5 409.86L227.5 409.82L228.0 409.82L228.0 410.02L228.5 410.02L228.5 410.02L229.0 410.02L229.0 410.66L229.5 410.66L229.5 409.38L230.0 409.38L230.0 409.83L230.5 409.83L230.5 408.74L231.0 408.74L231.0 408.74L231.5 408.74L231.5 410.07L232.0 410.07L232.0 409.74L232.5 409.74L232.5 410.06L233.0 410.06L233.0 409.88L233.5 409.88L233.5 409.88L234.0 409.88L234.0 409.88L234.5 409.88L234.5 409.88L235.0 409.88L235.0 409.88L235.5 409.88L235.5 409.98L236.0 409.98L236.0 410.18L236.5 410.18L236.5 410.38L237.0 410.38L237.0 410.58L237.5 410.58L237.5 410.64L238.0 410.64L238.0 410.64L238.5 410.64L238.5 410.64L239.0 410.64L239.0 410.64L239.5 410.64L239.5 410.64L240.0 410.64L240.0 410.64L240.5 410.64L240.5 410.64L241.0 410.64L241.0 410.64L241.5 410.64L241.5 410.64L242.0 410.64L242.0 410.64L242.5 410.64L242.5 410.64L243.0 410.64L243.0 410.64L243.5 410.64L243.5 410.64L244.0 410.64L244.0 410.64L244.5 410.64L244.5 410.64L245.0 410.64L245.0 410.64L245.5 410.64L245.5 410.64L246.0 410.64L246.0 410.70L246.5 410.70L246.5 410.80L247.0 410.80L247.0 410.90L247.5 410.90L247.5 411.00L248.0 411.00L248.0 411.02L248.5 411.02L248.5 411.03L249.0 411.03L249.0 411.03L249.5 411.03L249.5 411.03L250.0 411.03L250.0 411.03L250.5 411.03L250.5 411.04L251.0 411.04L251.0 411.04L251.5 411.04L251.5 411.04L252.0 411.04L252.0 411.05L252.5 411.05L252.5 411.05L253.0 411.05L253.0 411.05L253.5 411.05L253.5 411.06L254.0 411.06L254.0 411.06L254.5 411.06L254.5 411.06L255.0 411.06L255.0 411.06L255.5 411.06L255.5 411.07L256.0 411.07L256.0 411.07L256.5 411.07L256.5 411.07L257.0 411.07L257.0 411.08L257.5 411.08L257.5 411.08L258.0 411.08L258.0 411.08L258.5 411.08L258.5 411.08L259.0 411.08L259.0 411.09L259.5 411.09L259.5 411.09L260.0 411.09L260.0 411.09L260.5 411.09L260.5 411.10L261.0 411.10L261.0 411.10L261.5 411.10L261.5 411.10L262.0 411.10L262.0 411.11L262.5 411.11L262.5 411.11L263.0 411.11L263.0 411.11L263.5 411.11L263.5 411.11L264.0 411.11L264.0 411.12L264.5 411.12L264.5 411.12L265.0 411.12L265.0 411.12L265.5 411.12L265.5 411.13L266.0 411.13L266.0 411.13L266.5 411.13L266.5 411.13L267.0 411.13L267.0 411.13L267.5 411.13L267.5 411.14L268.0 411.14L268.0 411.14L268.5 411.14L268.5 411.14L269.0 411.14L269.0 411.15L269.5 411.15L269.5 411.15L270.0 411.15L270.0 411.15L270.5 411.15L270.5 411.16L271.0 411.16L271.0 411.16L271.5 411.16L271.5 411.16L272.0 411.16L272.0 411.16L272.5 411.16L272.5 411.17L273.0 411.17L273.0 411.17L273.5 411.17L273.5 411.17L274.0 411.17L274.0 411.18L274.5 411.18L274.5 411.18L275.0 411.18L275.0 411.18L275.5 411.18L275.5 411.18L276.0 411.18L276.0 411.19L276.5 411.19L276.5 411.19L277.0 411.19L277.0 411.19L277.5 411.19L277.5 411.20L278.0 411.20L278.0 411.20L278.5 411.20L278.5 411.20L279.0 411.20L279.0 411.21L279.5 411.21L279.5 411.21L280.0 411.21L280.0 411.21L280.5 411.21L280.5 411.20L281.0 411.20L281.0 411.20L281.5 411.20L281.5 411.20L282.0 411.20L282.0 411.19L282.5 411.19L282.5 411.19L283.0 411.19L283.0 411.19L283.5 411.19L283.5 411.19L284.0 411.19L284.0 411.18L284.5 411.18L284.5 411.18L285.0 411.18L285.0 411.18L285.5 411.18L285.5 411.17L286.0 411.17L286.0 411.17L286.5 411.17L286.5 411.17L287.0 411.17L287.0 411.17L287.5 411.17L287.5 411.16L288.0 411.16L288.0 411.16L288.5 411.16L288.5 411.16L289.0 411.16L289.0 411.15L289.5 411.15L289.5 411.15L290.0 411.15L290.0 411.15L290.5 411.15L290.5 411.14L291.0 411.14L291.0 411.14L291.5 411.14L291.5 411.14L292.0 411.14L292.0 411.14L292.5 411.14L292.5 411.13L293.0 411.13L293.0 411.13L293.5 411.13L293.5 411.13L294.0 411.13L294.0 411.12L294.5 411.12L294.5 411.12L295.0 411.12L295.0 411.12L295.5 411.12L295.5 411.11L296.0 411.11L296.0 411.11L296.5 411.11L296.5 411.11L297.0 411.11L297.0 411.11L297.5 411.11L297.5 411.10L298.0 411.10L298.0 411.10L298.5 411.10L298.5 411.10L299.0 411.10L299.0 411.09L299.5 411.09L299.5 411.09L300.0 411.09L300.0 411.09L300.5 411.09L300.5 411.08L301.0 411.08L301.0 411.08L301.5 411.08L301.5 411.08L302.0 411.08L302.0 411.08L302.5 411.08L302.5 411.07L303.0 411.07L303.0 411.07L303.5 411.07L303.5 411.07L304.0 411.07L304.0 411.06L304.5 411.06L304.5 411.06L305.0 411.06L305.0 411.06L305.5 411.06L305.5 411.06L306.0 411.06L306.0 411.05L306.5 411.05L306.5 411.05L307.0 411.05L307.0 411.05L307.5 411.05L307.5 411.04L308.0 411.04L308.0 411.04L308.5 411.04L308.5 411.04L309.0 411.04L309.0 411.03L309.5 411.03L309.5 411.03L310.0 411.03L310.0 411.03L310.5 411.03L310.5 411.03L311.0 411.03L311.0 411.02L311.5 411.02L311.5 411.02L312.0 411.02L312.0 411.4 Z" fill="#000"/><path d="M65.4 472.7L65.4 472.7L66.8 471.6L67.3 470.0L71.1 470.0L71.7 471.2L73.0 470.0L74.9 470.0L75.9 471.6L77.8 471.2L81.6 471.2L82.5 472.3L87.3 472.3L88.8 471.2L90.1 469.7L95.8 469.7L96.8 471.6L97.9 472.1L99.0 471.6L100.5 470.8L103.4 470.8L104.3 471.6L105.3 470.8L108.1 470.8L109.1 471.6L111.0 470.8L112.3 468.9L112.9 468.5L114.8 468.5L115.7 470.8L117.6 471.2L118.8 469.3L119.5 468.1L122.4 468.1L123.3 470.0L124.3 467.8L127.1 467.8L128.1 470.8L129.0 470.4L130.0 469.7L131.9 469.7L132.8 470.8L134.7 468.9L136.6 465.1L137.7 460.6L138.5 458.3L140.4 458.3L141.4 463.2L142.3 463.2L143.4 459.4L144.2 457.5L145.3 451.8L146.1 448.4L148.0 448.4L148.9 453.7L149.9 459.4L150.8 456.8L152.2 456.8L153.3 465.1L154.6 467.0L155.6 464.3L156.5 462.8L159.4 462.8L160.3 465.9L162.2 467.8L164.1 469.7L165.1 467.8L166.0 465.1L167.9 464.0L168.9 464.0L170.8 467.0L172.7 469.7L174.6 470.0L176.5 469.7L178.4 470.4L179.3 468.9L180.3 467.8L181.2 467.8L183.1 470.4L185.0 470.0L185.0 470.8L186.9 470.8L187.8 471.9L189.7 472.3L192.6 471.9L193.7 470.0L194.5 468.5L196.4 468.5L197.5 470.0L198.3 470.8L200.2 472.3L204.0 472.5L205.9 471.9L206.8 471.2L210.6 471.2L211.6 472.3L213.1 471.2L213.5 470.8L215.4 470.0L219.2 470.0L220.1 471.2L222.0 470.8L223.0 468.9L223.9 467.8L225.2 467.8L226.0 470.0L226.8 471.2L228.6 471.9L229.8 470.4L230.5 469.7L233.4 469.7L234.3 471.2L235.3 471.9L238.1 472.5L240.0 471.9L241.9 471.9L243.8 472.5L255.2 472.5L256.7 471.6L257.1 471.2L260.0 471.2L261.9 472.3L266.6 472.3L267.7 471.6L268.5 471.2L271.4 471.2L272.3 471.9L273.8 470.4L274.2 470.0L277.0 470.0L278.0 471.6L279.1 470.4L279.9 469.7L282.7 469.7L283.7 471.2L285.6 471.2L286.5 470.4L289.0 470.4L290.3 471.9L291.7 470.4L292.2 469.7L296.0 469.7L297.0 471.2L298.9 471.2L300.8 471.6L302.3 469.7L302.7 468.9L306.5 468.9L308.4 470.4L310.3 471.6L311.8 472.7L311.8 472.7 Z" fill="#1c6fcf"/><path d="M58.8 500.4L58.8 499.6L60.7 499.3L63.5 499.3L65.4 498.5L68.3 498.5L70.2 499.3L73.0 499.6L74.9 499.8L76.3 498.9L77.8 498.9L79.3 499.8L81.2 499.6L82.5 499.3L84.4 499.3L86.3 500.0L88.8 499.6L90.1 498.5L92.0 498.5L93.9 498.9L95.8 497.7L100.5 497.7L102.4 498.5L104.0 497.0L107.2 497.0L108.5 498.1L110.0 496.2L111.9 496.2L113.1 497.7L114.8 498.1L116.1 495.5L118.6 495.5L119.9 497.0L121.4 497.7L122.4 497.4L124.3 497.4L126.2 498.9L128.1 498.9L130.0 499.3L133.2 499.3L134.7 497.7L136.6 493.6L138.5 490.9L140.4 491.7L142.3 489.8L144.2 486.0L145.3 484.5L148.4 484.5L149.5 489.0L150.6 490.9L151.8 489.4L153.7 489.4L154.8 490.9L156.0 489.8L157.5 489.8L158.6 492.0L160.3 493.6L161.7 492.0L163.2 494.7L165.1 496.2L167.0 495.8L170.8 495.8L172.7 497.7L174.2 498.5L176.1 496.2L178.0 495.5L179.3 496.2L180.6 495.5L183.1 495.5L184.1 497.0L185.0 498.5L185.0 499.3L186.5 497.7L187.7 495.1L189.6 495.1L190.7 495.5L191.8 498.9L193.4 499.6L194.9 498.1L196.4 497.4L198.3 497.0L199.8 496.2L200.9 495.5L202.5 495.5L203.6 497.4L205.1 495.1L206.3 495.5L207.8 495.5L209.7 495.8L215.4 495.8L216.9 497.0L218.4 499.3L221.1 500.0L223.0 499.6L223.9 496.2L224.9 495.1L226.4 495.1L227.5 497.0L229.0 496.2L230.2 495.5L231.7 495.5L232.8 497.4L234.3 497.7L236.2 498.1L239.1 498.5L241.6 499.3L243.8 500.0L246.7 500.0L248.0 498.9L249.5 498.5L251.8 498.5L253.3 499.6L255.2 499.3L257.1 499.3L259.4 498.9L260.5 497.7L261.7 497.4L262.8 497.4L264.3 499.3L265.7 500.0L267.0 499.3L268.5 498.5L270.4 497.7L272.3 497.0L274.2 497.0L275.7 497.4L277.0 497.0L278.9 497.4L280.8 497.4L282.7 498.1L283.7 499.6L285.6 498.9L287.5 498.1L289.4 498.1L290.9 498.9L292.0 498.5L293.2 497.4L294.1 498.5L295.5 498.1L297.0 497.4L298.1 497.0L299.6 497.0L301.1 498.5L302.7 498.9L304.6 499.3L306.5 498.5L308.0 497.7L309.3 498.5L310.6 497.7L311.8 498.5L311.8 500.4 Z" fill="#1c6fcf"/><path d="M59.2 527.5L59.2 527.5L60.7 526.4L61.6 526.0L63.5 526.0L64.9 526.9L66.4 527.1L67.9 526.4L69.2 526.4L70.6 526.4L72.1 527.1L78.7 527.1L80.6 526.4L83.5 526.4L85.4 526.0L87.3 525.6L91.1 525.6L92.2 526.7L93.9 526.0L94.9 524.1L96.0 524.1L97.1 526.0L98.3 527.1L104.0 527.1L105.1 524.8L105.9 524.5L107.8 524.5L108.9 526.4L110.0 527.1L111.9 526.7L113.5 525.6L115.7 525.2L117.6 524.5L119.5 523.3L120.5 521.8L121.8 521.8L122.9 523.3L124.3 524.5L125.6 526.7L127.1 527.1L130.0 526.4L131.3 524.5L132.8 523.3L134.7 522.9L136.2 521.8L137.0 518.0L137.7 516.9L139.3 516.9L140.4 521.0L141.5 522.6L142.7 520.7L143.8 518.0L144.6 516.1L145.3 515.4L146.9 515.4L148.0 518.0L149.1 521.8L150.3 520.7L151.4 518.0L152.9 518.0L154.1 519.9L155.2 522.9L156.7 524.5L158.4 526.0L160.3 526.0L162.2 525.2L163.6 524.5L165.1 524.5L167.0 525.6L168.9 525.6L170.8 526.0L172.7 525.2L174.2 524.8L175.7 524.8L177.4 525.6L179.3 526.0L181.2 526.0L183.1 526.4L185.0 526.4L185.0 526.4L187.3 526.7L188.8 526.7L190.7 526.4L192.6 526.0L194.1 525.6L194.9 523.3L195.6 522.9L197.1 522.9L198.3 525.2L199.4 526.4L201.1 527.1L204.0 527.3L206.8 526.9L209.7 527.3L223.0 527.1L225.8 526.4L228.6 526.0L230.5 525.2L232.4 524.8L234.7 524.8L235.9 526.4L238.1 527.1L241.9 527.1L244.2 526.4L245.7 526.0L247.2 524.8L248.4 524.1L249.5 524.1L250.7 526.0L252.4 527.1L255.6 527.1L257.1 526.7L259.4 526.4L260.9 526.7L262.8 526.4L263.9 525.2L264.7 524.8L266.2 524.8L267.4 526.0L268.5 525.6L270.0 524.8L271.2 523.7L271.9 522.9L273.1 522.9L274.2 525.2L275.3 526.7L278.0 527.1L280.8 526.7L282.2 525.6L283.7 525.2L288.4 525.2L289.8 526.4L292.2 527.1L294.1 526.7L295.5 525.6L296.6 525.6L297.7 525.6L298.9 526.4L300.8 525.6L301.9 524.5L303.0 523.3L304.2 522.2L305.7 522.2L306.8 524.1L308.0 525.6L309.1 524.1L310.3 523.7L311.4 524.8L311.8 526.0L311.8 527.5 Z" fill="#1c6fcf"/><path d="M90.1 589.1L90.1 589.1L91.1 588.5L93.0 588.5L94.1 589.0L118.6 589.0L119.5 588.5L121.4 588.5L122.6 589.0L126.0 589.0L127.1 588.5L128.6 589.0L131.9 589.0L132.8 588.3L140.4 588.3L141.5 588.9L143.4 588.9L144.2 588.5L146.1 588.5L147.2 589.0L150.6 589.0L151.8 588.5L153.3 589.0L159.0 589.0L160.3 588.5L161.7 589.1L183.1 589.1L184.1 588.5L185.0 588.9L185.0 588.7L186.1 589.1L274.2 589.1L275.3 588.5L276.9 588.5L278.0 589.0L282.7 589.0L283.7 588.3L286.5 588.3L287.9 589.1L287.9 589.1 Z" fill="#008000"/><path d="M75.9 616.6L75.9 616.6L78.7 616.2L85.4 616.2L87.3 615.8L88.2 615.5L90.1 615.5L91.4 616.0L93.0 616.0L94.9 615.8L96.8 616.2L104.3 616.0L107.2 615.7L110.0 615.1L111.9 614.9L113.8 614.7L115.7 614.7L117.6 614.3L119.1 613.9L120.5 612.8L121.4 610.9L122.4 609.8L124.3 609.8L125.2 610.9L126.2 612.8L127.1 614.7L128.1 615.8L130.9 616.0L133.8 615.8L136.6 615.5L137.7 614.3L138.5 613.2L140.4 613.2L141.4 613.9L142.3 614.7L143.2 613.6L144.2 612.8L148.0 612.8L148.9 613.2L149.9 613.6L150.8 611.7L151.8 610.1L152.7 610.1L153.7 612.0L154.6 613.2L156.0 611.3L157.5 609.8L159.4 609.8L160.3 610.5L161.3 610.9L163.2 611.3L165.1 611.3L166.2 610.5L167.0 609.8L167.7 607.5L168.5 606.7L169.8 606.7L170.6 608.2L171.1 609.0L171.9 609.0L172.7 608.2L173.6 607.1L174.6 606.0L178.4 606.0L179.3 606.7L180.3 607.1L181.2 607.9L182.2 608.2L183.7 609.0L185.0 609.8L185.0 610.9L185.9 610.1L186.9 611.7L188.0 610.9L188.8 610.1L189.9 609.0L190.7 609.0L193.5 609.0L194.5 609.4L195.4 609.8L196.4 607.1L196.8 605.6L197.9 605.6L198.7 607.5L199.2 609.0L200.2 610.1L201.1 610.9L201.9 607.1L202.5 604.5L203.2 602.9L204.0 602.2L205.5 602.2L206.3 603.3L206.8 603.7L207.8 602.9L208.7 602.2L209.5 600.7L210.1 599.5L210.8 596.9L211.6 595.3L212.3 593.8L213.1 593.1L213.8 593.1L214.6 594.6L215.4 595.7L215.9 593.4L216.5 591.9L218.0 591.9L218.8 593.8L219.2 595.7L219.7 603.3L220.3 609.0L220.9 610.9L221.4 612.0L222.2 611.7L223.0 611.3L224.5 611.3L225.2 612.8L225.8 613.6L226.8 615.1L227.7 615.8L228.6 615.1L229.6 613.9L230.2 613.4L230.9 613.2L232.1 613.2L232.8 613.9L233.4 614.7L234.3 615.7L235.3 616.2L238.1 616.4L241.9 616.4L243.8 616.2L247.6 616.4L250.5 616.2L255.2 616.2L257.1 616.0L259.0 616.4L260.9 616.6L260.9 616.6 Z" fill="#008000"/><path d="M74.0 643.8L74.0 643.8L75.9 643.6L89.2 643.6L100.5 643.6L113.8 643.6L115.7 643.4L116.9 642.7L117.6 642.3L122.4 642.3L123.3 642.9L124.3 643.4L127.1 643.6L130.9 643.4L132.8 643.0L134.7 643.4L137.0 643.0L138.5 642.3L140.4 642.3L141.4 642.7L142.3 643.0L143.1 641.5L143.8 640.4L146.1 640.4L147.0 640.8L148.0 641.1L148.9 641.3L149.9 641.5L151.8 641.5L152.7 641.9L153.7 642.3L155.6 642.9L157.5 642.7L159.0 642.3L160.3 641.9L161.3 641.5L164.1 641.5L165.1 642.3L166.0 642.7L167.4 642.9L168.9 643.0L170.8 643.0L172.7 642.7L173.6 641.5L174.6 640.8L178.4 640.8L179.3 641.5L180.3 641.9L181.2 642.3L182.2 642.3L185.0 642.3L185.0 642.7L186.9 643.0L188.4 643.0L189.7 642.3L192.6 642.3L193.5 643.0L194.5 643.4L196.4 643.6L198.3 643.4L200.2 643.2L202.1 643.2L203.0 643.0L204.0 641.1L204.9 639.6L205.9 638.9L208.7 638.9L209.7 640.4L210.6 641.1L211.6 640.8L212.5 640.4L215.4 640.4L216.3 640.0L217.3 639.2L219.2 639.2L219.9 641.1L220.7 642.7L221.8 643.4L223.0 643.6L224.9 642.7L232.4 642.7L234.0 643.2L235.3 643.4L238.1 643.8L298.9 643.8L300.8 643.0L303.6 643.0L304.9 643.8L304.9 643.8 Z" fill="#008000"/><path d="M217.0 732.5L217.1 707.9L217.9 707.3L218.9 714.5L219.9 723.5L220.8 729.0L222.0 730.9L222.8 732.5Z" fill="#b2222a"/><path d="M216.8 759.7L217.4 758.1L218.6 758.1L220.6 758.9L221 759.7Z" fill="#b2222a"/><line x1="58.3" y1="356.30" x2="312.4" y2="356.30" stroke="#2a2a2a" stroke-width="0.8"/><line x1="58.3" y1="383.70" x2="312.4" y2="383.70" stroke="#2a2a2a" stroke-width="0.8"/><line x1="58.3" y1="411.40" x2="312.4" y2="411.40" stroke="#2a2a2a" stroke-width="0.8"/><line x1="58.3" y1="472.70" x2="312.4" y2="472.70" stroke="#2a2a2a" stroke-width="0.8"/><line x1="58.3" y1="500.40" x2="312.4" y2="500.40" stroke="#2a2a2a" stroke-width="0.8"/><line x1="58.3" y1="527.50" x2="312.4" y2="527.50" stroke="#2a2a2a" stroke-width="0.8"/><line x1="58.3" y1="589.10" x2="312.4" y2="589.10" stroke="#2a2a2a" stroke-width="0.8"/><line x1="58.3" y1="616.60" x2="312.4" y2="616.60" stroke="#2a2a2a" stroke-width="0.8"/><line x1="58.3" y1="643.80" x2="312.4" y2="643.80" stroke="#2a2a2a" stroke-width="0.8"/><line x1="58.3" y1="705.20" x2="312.4" y2="705.20" stroke="#2a2a2a" stroke-width="0.8"/><line x1="58.3" y1="732.50" x2="312.4" y2="732.50" stroke="#2a2a2a" stroke-width="0.8"/><line x1="58.3" y1="759.70" x2="312.4" y2="759.70" stroke="#2a2a2a" stroke-width="0.8"/><path d="M58.6 774.9H217.2 M60.2 773.1H58.9V776.7H60.2" stroke="#ababab" stroke-width="0.8" fill="none"/><path d="M69.7 773.1L67.3 774.9L69.7 776.7M80.0 773.1L77.6 774.9L80.0 776.7M90.4 773.1L88.0 774.9L90.4 776.7M100.7 773.1L98.3 774.9L100.7 776.7M111.0 773.1L108.6 774.9L111.0 776.7M121.3 773.1L118.9 774.9L121.3 776.7M131.7 773.1L129.3 774.9L131.7 776.7M142.0 773.1L139.6 774.9L142.0 776.7M152.3 773.1L149.9 774.9L152.3 776.7M162.7 773.1L160.3 774.9L162.7 776.7M173.0 773.1L170.6 774.9L173.0 776.7M183.3 773.1L180.9 774.9L183.3 776.7M193.7 773.1L191.3 774.9L193.7 776.7M204.0 773.1L201.6 774.9L204.0 776.7M214.3 773.1L211.9 774.9L214.3 776.7" stroke="#a6a6a6" stroke-width="0.8" fill="none"/><rect x="217.2" y="769.3" width="16.1" height="11" fill="#000"/><text x="233.4" y="801.4" font-size="16.3" font-style="italic" text-anchor="middle" fill="#000" stroke="#000" stroke-width="0.3">SPARC</text>
<text x="322.4" y="294.7" font-size="21.5" fill="#000" stroke="#000" stroke-width="0.3">D</text><path d="M424.2 289.1H574.5 M424.2 285V293.3 M574.5 285V293.3" stroke="#b5b5b5" stroke-width="1.5" fill="none"/><text x="499.4" y="297.1" font-size="8.2" text-anchor="middle" fill="#b5b5b5" stroke="#b5b5b5" stroke-width="0.1">3 kb</text><rect x="596.1" y="281.0" width="17.7" height="19.7" fill="#6b6b6b"/><text x="619.7" y="295.7" font-size="16" fill="#000" stroke="#000" stroke-width="0.3">Par</text><rect x="596.1" y="300.9" width="17.7" height="19.7" fill="#ff7f00"/><text x="619.7" y="316.6" font-size="16" fill="#000" stroke="#000" stroke-width="0.3">LM2</text><rect x="596.1" y="320.9" width="17.7" height="19.7" fill="#104e8b"/><text x="619.7" y="337.5" font-size="16" fill="#000" stroke="#000" stroke-width="0.3">BrM2</text><rect x="389.9" y="330.9" width="24.0" height="26.5" fill="#6b6b6b"/><rect x="389.9" y="358.1" width="24.0" height="26.5" fill="#ff7f00"/><rect x="389.9" y="385.4" width="24.0" height="26.5" fill="#104e8b"/><text x="442.1" y="320.8" font-size="10.4" text-anchor="middle" fill="#1c1c1c" stroke="#1c1c1c" stroke-width="0.1">0 - 100</text><rect x="389.9" y="447.4" width="24.0" height="26.5" fill="#6b6b6b"/><rect x="389.9" y="474.6" width="24.0" height="26.5" fill="#ff7f00"/><rect x="389.9" y="501.9" width="24.0" height="26.5" fill="#104e8b"/><text x="442.1" y="437.3" font-size="10.4" text-anchor="middle" fill="#1c1c1c" stroke="#1c1c1c" stroke-width="0.1">0 - 19</text><rect x="389.9" y="563.5" width="24.0" height="26.5" fill="#6b6b6b"/><rect x="389.9" y="590.8" width="24.0" height="26.5" fill="#ff7f00"/><rect x="389.9" y="618.0" width="24.0" height="26.5" fill="#104e8b"/><text x="442.1" y="553.4" font-size="10.4" text-anchor="middle" fill="#1c1c1c" stroke="#1c1c1c" stroke-width="0.1">0 - 119</text><rect x="389.9" y="680.0" width="24.0" height="26.5" fill="#6b6b6b"/><rect x="389.9" y="707.2" width="24.0" height="26.5" fill="#ff7f00"/><rect x="389.9" y="734.5" width="24.0" height="26.5" fill="#104e8b"/><text x="442.1" y="669.9" font-size="10.4" text-anchor="middle" fill="#1c1c1c" stroke="#1c1c1c" stroke-width="0.1">0 - 1</text><path d="M428.0 356.4L428.0 356.27L428.5 356.27L428.5 356.02L429.0 356.02L429.0 355.77L429.5 355.77L429.5 355.52L430.0 355.52L430.0 355.45L430.5 355.45L430.5 355.45L431.0 355.45L431.0 355.45L431.5 355.45L431.5 355.45L432.0 355.45L432.0 355.51L432.5 355.51L432.5 355.88L433.0 355.88L433.0 356.26L433.5 356.26L433.5 356.31L434.0 356.31L434.0 356.31L434.5 356.31L434.5 356.31L435.0 356.31L435.0 356.31L435.5 356.31L435.5 356.31L436.0 356.31L436.0 356.31L436.5 356.31L436.5 356.31L437.0 356.31L437.0 356.31L437.5 356.31L437.5 356.31L438.0 356.31L438.0 356.31L438.5 356.31L438.5 356.31L439.0 356.31L439.0 356.31L439.5 356.31L439.5 356.31L440.0 356.31L440.0 356.31L440.5 356.31L440.5 356.31L441.0 356.31L441.0 356.31L441.5 356.31L441.5 356.31L442.0 356.31L442.0 356.31L442.5 356.31L442.5 356.31L443.0 356.31L443.0 356.31L443.5 356.31L443.5 356.31L444.0 356.31L444.0 356.31L444.5 356.31L444.5 356.31L445.0 356.31L445.0 356.31L445.5 356.31L445.5 356.31L446.0 356.31L446.0 356.31L446.5 356.31L446.5 356.31L447.0 356.31L447.0 356.31L447.5 356.31L447.5 356.31L448.0 356.31L448.0 356.31L448.5 356.31L448.5 356.31L449.0 356.31L449.0 356.31L449.5 356.31L449.5 356.31L450.0 356.31L450.0 356.31L450.5 356.31L450.5 356.03L451.0 356.03L451.0 355.65L451.5 355.65L451.5 355.48L452.0 355.48L452.0 355.70L452.5 355.70L452.5 356.08L453.0 356.08L453.0 356.31L453.5 356.31L453.5 356.31L454.0 356.31L454.0 356.31L454.5 356.31L454.5 356.31L455.0 356.31L455.0 356.31L455.5 356.31L455.5 356.31L456.0 356.31L456.0 356.31L456.5 356.31L456.5 356.31L457.0 356.31L457.0 356.31L457.5 356.31L457.5 356.31L458.0 356.31L458.0 356.31L458.5 356.31L458.5 356.31L459.0 356.31L459.0 356.31L459.5 356.31L459.5 356.31L460.0 356.31L460.0 356.31L460.5 356.31L460.5 356.31L461.0 356.31L461.0 356.31L461.5 356.31L461.5 356.31L462.0 356.31L462.0 356.31L462.5 356.31L462.5 356.31L463.0 356.31L463.0 356.31L463.5 356.31L463.5 356.31L464.0 356.31L464.0 356.31L464.5 356.31L464.5 356.31L465.0 356.31L465.0 356.31L465.5 356.31L465.5 356.31L466.0 356.31L466.0 356.31L466.5 356.31L466.5 356.31L467.0 356.31L467.0 356.31L467.5 356.31L467.5 356.31L468.0 356.31L468.0 356.31L468.5 356.31L468.5 356.31L469.0 356.31L469.0 356.31L469.5 356.31L469.5 356.31L470.0 356.31L470.0 356.31L470.5 356.31L470.5 356.31L471.0 356.31L471.0 356.31L471.5 356.31L471.5 356.31L472.0 356.31L472.0 356.31L472.5 356.31L472.5 356.31L473.0 356.31L473.0 356.31L473.5 356.31L473.5 356.31L474.0 356.31L474.0 356.31L474.5 356.31L474.5 356.31L475.0 356.31L475.0 356.31L475.5 356.31L475.5 356.31L476.0 356.31L476.0 356.31L476.5 356.31L476.5 356.31L477.0 356.31L477.0 356.31L477.5 356.31L477.5 356.31L478.0 356.31L478.0 356.31L478.5 356.31L478.5 356.31L479.0 356.31L479.0 356.31L479.5 356.31L479.5 356.31L480.0 356.31L480.0 356.31L480.5 356.31L480.5 356.31L481.0 356.31L481.0 356.31L481.5 356.31L481.5 356.31L482.0 356.31L482.0 356.31L482.5 356.31L482.5 356.31L483.0 356.31L483.0 356.31L483.5 356.31L483.5 356.31L484.0 356.31L484.0 356.31L484.5 356.31L484.5 356.31L485.0 356.31L485.0 356.31L485.5 356.31L485.5 356.31L486.0 356.31L486.0 356.31L486.5 356.31L486.5 356.31L487.0 356.31L487.0 356.31L487.5 356.31L487.5 356.31L488.0 356.31L488.0 356.31L488.5 356.31L488.5 356.31L489.0 356.31L489.0 356.31L489.5 356.31L489.5 356.31L490.0 356.31L490.0 356.31L490.5 356.31L490.5 356.31L491.0 356.31L491.0 356.31L491.5 356.31L491.5 356.31L492.0 356.31L492.0 356.31L492.5 356.31L492.5 356.31L493.0 356.31L493.0 356.31L493.5 356.31L493.5 356.31L494.0 356.31L494.0 356.31L494.5 356.31L494.5 356.31L495.0 356.31L495.0 356.31L495.5 356.31L495.5 356.31L496.0 356.31L496.0 356.31L496.5 356.31L496.5 356.31L497.0 356.31L497.0 356.31L497.5 356.31L497.5 356.31L498.0 356.31L498.0 356.31L498.5 356.31L498.5 356.31L499.0 356.31L499.0 356.31L499.5 356.31L499.5 356.31L500.0 356.31L500.0 356.31L500.5 356.31L500.5 356.31L501.0 356.31L501.0 356.31L501.5 356.31L501.5 356.31L502.0 356.31L502.0 356.31L502.5 356.31L502.5 356.31L503.0 356.31L503.0 356.31L503.5 356.31L503.5 356.31L504.0 356.31L504.0 356.31L504.5 356.31L504.5 356.31L505.0 356.31L505.0 356.14L505.5 356.14L505.5 355.77L506.0 355.77L506.0 355.47L506.5 355.47L506.5 355.58L507.0 355.58L507.0 355.96L507.5 355.96L507.5 356.31L508.0 356.31L508.0 356.31L508.5 356.31L508.5 356.31L509.0 356.31L509.0 356.31L509.5 356.31L509.5 356.31L510.0 356.31L510.0 356.31L510.5 356.31L510.5 356.31L511.0 356.31L511.0 356.31L511.5 356.31L511.5 356.31L512.0 356.31L512.0 356.31L512.5 356.31L512.5 356.31L513.0 356.31L513.0 356.31L513.5 356.31L513.5 356.31L514.0 356.31L514.0 356.31L514.5 356.31L514.5 356.31L515.0 356.31L515.0 356.31L515.5 356.31L515.5 356.31L516.0 356.31L516.0 356.31L516.5 356.31L516.5 356.31L517.0 356.31L517.0 356.31L517.5 356.31L517.5 356.31L518.0 356.31L518.0 356.31L518.5 356.31L518.5 356.31L519.0 356.31L519.0 356.31L519.5 356.31L519.5 356.31L520.0 356.31L520.0 356.31L520.5 356.31L520.5 356.31L521.0 356.31L521.0 356.31L521.5 356.31L521.5 356.31L522.0 356.31L522.0 356.31L522.5 356.31L522.5 356.31L523.0 356.31L523.0 356.09L523.5 356.09L523.5 355.79L524.0 355.79L524.0 355.64L524.5 355.64L524.5 355.64L525.0 355.64L525.0 355.64L525.5 355.64L525.5 355.64L526.0 355.64L526.0 355.64L526.5 355.64L526.5 355.64L527.0 355.64L527.0 355.64L527.5 355.64L527.5 355.77L528.0 355.77L528.0 355.99L528.5 355.99L528.5 356.21L529.0 356.21L529.0 356.30L529.5 356.30L529.5 356.30L530.0 356.30L530.0 356.29L530.5 356.29L530.5 356.29L531.0 356.29L531.0 356.29L531.5 356.29L531.5 356.28L532.0 356.28L532.0 356.28L532.5 356.28L532.5 356.28L533.0 356.28L533.0 356.27L533.5 356.27L533.5 356.27L534.0 356.27L534.0 356.27L534.5 356.27L534.5 356.26L535.0 356.26L535.0 356.26L535.5 356.26L535.5 356.26L536.0 356.26L536.0 356.25L536.5 356.25L536.5 356.25L537.0 356.25L537.0 356.25L537.5 356.25L537.5 356.24L538.0 356.24L538.0 356.24L538.5 356.24L538.5 356.24L539.0 356.24L539.0 356.23L539.5 356.23L539.5 356.23L540.0 356.23L540.0 356.23L540.5 356.23L540.5 356.22L541.0 356.22L541.0 356.22L541.5 356.22L541.5 356.22L542.0 356.22L542.0 356.21L542.5 356.21L542.5 356.21L543.0 356.21L543.0 356.12L543.5 356.12L543.5 356.02L544.0 356.02L544.0 355.92L544.5 355.92L544.5 355.83L545.0 355.83L545.0 355.83L545.5 355.83L545.5 355.83L546.0 355.83L546.0 355.83L546.5 355.83L546.5 355.79L547.0 355.79L547.0 355.67L547.5 355.67L547.5 355.54L548.0 355.54L548.0 355.45L548.5 355.45L548.5 355.47L549.0 355.47L549.0 355.51L549.5 355.51L549.5 355.55L550.0 355.55L550.0 355.60L550.5 355.60L550.5 355.51L551.0 355.51L551.0 355.32L551.5 355.32L551.5 355.13L552.0 355.13L552.0 355.07L552.5 355.07L552.5 355.07L553.0 355.07L553.0 355.07L553.5 355.07L553.5 355.07L554.0 355.07L554.0 355.07L554.5 355.07L554.5 355.12L555.0 355.12L555.0 355.27L555.5 355.27L555.5 355.42L556.0 355.42L556.0 355.57L556.5 355.57L556.5 355.57L557.0 355.57L557.0 355.52L557.5 355.52L557.5 355.47L558.0 355.47L558.0 355.45L558.5 355.45L558.5 355.60L559.0 355.60L559.0 355.80L559.5 355.80L559.5 356.00L560.0 356.00L560.0 356.20L560.5 356.20L560.5 356.21L561.0 356.21L561.0 356.21L561.5 356.21L561.5 356.21L562.0 356.21L562.0 356.21L562.5 356.21L562.5 356.21L563.0 356.21L563.0 356.21L563.5 356.21L563.5 356.21L564.0 356.21L564.0 356.11L564.5 356.11L564.5 355.86L565.0 355.86L565.0 355.64L565.5 355.64L565.5 355.64L566.0 355.64L566.0 355.64L566.5 355.64L566.5 355.64L567.0 355.64L567.0 355.64L567.5 355.64L567.5 355.64L568.0 355.64L568.0 355.83L568.5 355.83L568.5 356.08L569.0 356.08L569.0 356.21L569.5 356.21L569.5 356.21L570.0 356.21L570.0 356.21L570.5 356.21L570.5 356.21L571.0 356.21L571.0 356.21L571.5 356.21L571.5 356.21L572.0 356.21L572.0 356.21L572.5 356.21L572.5 356.21L573.0 356.21L573.0 356.21L573.5 356.21L573.5 356.21L574.0 356.21L574.0 356.21L574.5 356.21L574.5 356.21L575.0 356.21L575.0 356.21L575.5 356.21L575.5 356.21L576.0 356.21L576.0 356.21L576.5 356.21L576.5 356.21L577.0 356.21L577.0 356.21L577.5 356.21L577.5 356.21L578.0 356.21L578.0 356.21L578.5 356.21L578.5 356.21L579.0 356.21L579.0 356.21L579.5 356.21L579.5 356.21L580.0 356.21L580.0 356.21L580.5 356.21L580.5 356.21L581.0 356.21L581.0 356.21L581.5 356.21L581.5 356.21L582.0 356.21L582.0 356.21L582.5 356.21L582.5 356.21L583.0 356.21L583.0 356.21L583.5 356.21L583.5 356.12L584.0 356.12L584.0 355.82L584.5 355.82L584.5 355.64L585.0 355.64L585.0 355.79L585.5 355.79L585.5 356.04L586.0 356.04L586.0 356.21L586.5 356.21L586.5 356.21L587.0 356.21L587.0 356.21L587.5 356.21L587.5 356.21L588.0 356.21L588.0 356.21L588.5 356.21L588.5 356.21L589.0 356.21L589.0 356.21L589.5 356.21L589.5 356.21L590.0 356.21L590.0 356.21L590.5 356.21L590.5 356.21L591.0 356.21L591.0 356.21L591.5 356.21L591.5 356.21L592.0 356.21L592.0 356.21L592.5 356.21L592.5 356.06L593.0 356.06L593.0 355.73L593.5 355.73L593.5 355.46L594.0 355.46L594.0 355.61L594.5 355.61L594.5 356.02L595.0 356.02L595.0 356.4 Z" fill="#000"/><path d="M417.0 383.6L417.0 383.21L417.5 383.21L417.5 383.20L418.0 383.20L418.0 383.19L418.5 383.19L418.5 383.17L419.0 383.17L419.0 383.16L419.5 383.16L419.5 383.15L420.0 383.15L420.0 383.13L420.5 383.13L420.5 383.12L421.0 383.12L421.0 383.11L421.5 383.11L421.5 383.09L422.0 383.09L422.0 383.08L422.5 383.08L422.5 383.07L423.0 383.07L423.0 383.06L423.5 383.06L423.5 383.04L424.0 383.04L424.0 383.03L424.5 383.03L424.5 383.03L425.0 383.03L425.0 383.05L425.5 383.05L425.5 383.06L426.0 383.06L426.0 383.07L426.5 383.07L426.5 383.08L427.0 383.08L427.0 383.10L427.5 383.10L427.5 383.11L428.0 383.11L428.0 383.12L428.5 383.12L428.5 383.13L429.0 383.13L429.0 383.15L429.5 383.15L429.5 383.16L430.0 383.16L430.0 383.17L430.5 383.17L430.5 383.18L431.0 383.18L431.0 383.20L431.5 383.20L431.5 383.21L432.0 383.21L432.0 383.18L432.5 383.18L432.5 383.14L433.0 383.14L433.0 383.10L433.5 383.10L433.5 383.06L434.0 383.06L434.0 383.02L434.5 383.02L434.5 382.98L435.0 382.98L435.0 382.94L435.5 382.94L435.5 382.90L436.0 382.90L436.0 382.86L436.5 382.86L436.5 382.84L437.0 382.84L437.0 382.86L437.5 382.86L437.5 382.89L438.0 382.89L438.0 382.92L438.5 382.92L438.5 382.95L439.0 382.95L439.0 382.97L439.5 382.97L439.5 383.00L440.0 383.00L440.0 383.03L440.5 383.03L440.5 383.06L441.0 383.06L441.0 383.09L441.5 383.09L441.5 383.12L442.0 383.12L442.0 383.15L442.5 383.15L442.5 383.17L443.0 383.17L443.0 383.20L443.5 383.20L443.5 383.21L444.0 383.21L444.0 383.19L444.5 383.19L444.5 383.18L445.0 383.18L445.0 383.17L445.5 383.17L445.5 383.16L446.0 383.16L446.0 383.14L446.5 383.14L446.5 383.13L447.0 383.13L447.0 383.12L447.5 383.12L447.5 383.11L448.0 383.11L448.0 383.09L448.5 383.09L448.5 383.08L449.0 383.08L449.0 383.07L449.5 383.07L449.5 383.06L450.0 383.06L450.0 383.04L450.5 383.04L450.5 383.03L451.0 383.03L451.0 383.01L451.5 383.01L451.5 383.00L452.0 383.00L452.0 382.98L452.5 382.98L452.5 382.96L453.0 382.96L453.0 382.95L453.5 382.95L453.5 382.93L454.0 382.93L454.0 382.91L454.5 382.91L454.5 382.90L455.0 382.90L455.0 382.88L455.5 382.88L455.5 382.86L456.0 382.86L456.0 382.85L456.5 382.85L456.5 382.84L457.0 382.84L457.0 382.84L457.5 382.84L457.5 382.84L458.0 382.84L458.0 382.84L458.5 382.84L458.5 382.84L459.0 382.84L459.0 382.84L459.5 382.84L459.5 382.84L460.0 382.84L460.0 382.84L460.5 382.84L460.5 382.85L461.0 382.85L461.0 382.90L461.5 382.90L461.5 382.95L462.0 382.95L462.0 383.00L462.5 383.00L462.5 383.05L463.0 383.05L463.0 383.10L463.5 383.10L463.5 383.15L464.0 383.15L464.0 383.20L464.5 383.20L464.5 383.21L465.0 383.21L465.0 383.20L465.5 383.20L465.5 383.19L466.0 383.19L466.0 383.18L466.5 383.18L466.5 383.17L467.0 383.17L467.0 383.16L467.5 383.16L467.5 383.15L468.0 383.15L468.0 383.14L468.5 383.14L468.5 383.13L469.0 383.13L469.0 383.12L469.5 383.12L469.5 383.11L470.0 383.11L470.0 383.10L470.5 383.10L470.5 383.09L471.0 383.09L471.0 383.08L471.5 383.08L471.5 383.07L472.0 383.07L472.0 383.06L472.5 383.06L472.5 383.05L473.0 383.05L473.0 383.04L473.5 383.04L473.5 383.03L474.0 383.03L474.0 383.04L474.5 383.04L474.5 383.05L475.0 383.05L475.0 383.06L475.5 383.06L475.5 383.08L476.0 383.08L476.0 383.09L476.5 383.09L476.5 383.10L477.0 383.10L477.0 383.11L477.5 383.11L477.5 383.13L478.0 383.13L478.0 383.14L478.5 383.14L478.5 383.15L479.0 383.15L479.0 383.16L479.5 383.16L479.5 383.18L480.0 383.18L480.0 383.19L480.5 383.19L480.5 383.20L481.0 383.20L481.0 383.21L481.5 383.21L481.5 383.20L482.0 383.20L482.0 383.19L482.5 383.19L482.5 383.18L483.0 383.18L483.0 383.17L483.5 383.17L483.5 383.15L484.0 383.15L484.0 383.14L484.5 383.14L484.5 383.13L485.0 383.13L485.0 383.12L485.5 383.12L485.5 383.10L486.0 383.10L486.0 383.09L486.5 383.09L486.5 383.08L487.0 383.08L487.0 383.07L487.5 383.07L487.5 383.05L488.0 383.05L488.0 383.04L488.5 383.04L488.5 383.03L489.0 383.03L489.0 383.03L489.5 383.03L489.5 383.05L490.0 383.05L490.0 383.06L490.5 383.06L490.5 383.07L491.0 383.07L491.0 383.08L491.5 383.08L491.5 383.10L492.0 383.10L492.0 383.11L492.5 383.11L492.5 383.12L493.0 383.12L493.0 383.13L493.5 383.13L493.5 383.15L494.0 383.15L494.0 383.16L494.5 383.16L494.5 383.17L495.0 383.17L495.0 383.18L495.5 383.18L495.5 383.20L496.0 383.20L496.0 383.21L496.5 383.21L496.5 383.21L497.0 383.21L497.0 383.20L497.5 383.20L497.5 383.18L498.0 383.18L498.0 383.17L498.5 383.17L498.5 383.16L499.0 383.16L499.0 383.15L499.5 383.15L499.5 383.13L500.0 383.13L500.0 383.12L500.5 383.12L500.5 383.11L501.0 383.11L501.0 383.10L501.5 383.10L501.5 383.08L502.0 383.08L502.0 383.07L502.5 383.07L502.5 383.06L503.0 383.06L503.0 383.05L503.5 383.05L503.5 383.03L504.0 383.03L504.0 383.03L504.5 383.03L504.5 383.04L505.0 383.04L505.0 383.05L505.5 383.05L505.5 383.07L506.0 383.07L506.0 383.08L506.5 383.08L506.5 383.09L507.0 383.09L507.0 383.10L507.5 383.10L507.5 383.12L508.0 383.12L508.0 383.13L508.5 383.13L508.5 383.14L509.0 383.14L509.0 383.15L509.5 383.15L509.5 383.17L510.0 383.17L510.0 383.18L510.5 383.18L510.5 383.19L511.0 383.19L511.0 383.20L511.5 383.20L511.5 383.21L512.0 383.21L512.0 383.20L512.5 383.20L512.5 383.19L513.0 383.19L513.0 383.18L513.5 383.18L513.5 383.16L514.0 383.16L514.0 383.15L514.5 383.15L514.5 383.14L515.0 383.14L515.0 383.13L515.5 383.13L515.5 383.11L516.0 383.11L516.0 383.10L516.5 383.10L516.5 383.09L517.0 383.09L517.0 383.08L517.5 383.08L517.5 383.06L518.0 383.06L518.0 383.05L518.5 383.05L518.5 383.04L519.0 383.04L519.0 383.03L519.5 383.03L519.5 383.03L520.0 383.03L520.0 383.03L520.5 383.03L520.5 383.03L521.0 383.03L521.0 383.03L521.5 383.03L521.5 383.03L522.0 383.03L522.0 383.03L522.5 383.03L522.5 383.03L523.0 383.03L523.0 383.03L523.5 383.03L523.5 383.03L524.0 383.03L524.0 383.03L524.5 383.03L524.5 383.03L525.0 383.03L525.0 383.03L525.5 383.03L525.5 383.03L526.0 383.03L526.0 383.03L526.5 383.03L526.5 383.03L527.0 383.03L527.0 383.01L527.5 383.01L527.5 382.99L528.0 382.99L528.0 382.97L528.5 382.97L528.5 382.95L529.0 382.95L529.0 382.93L529.5 382.93L529.5 382.91L530.0 382.91L530.0 382.89L530.5 382.89L530.5 382.87L531.0 382.87L531.0 382.85L531.5 382.85L531.5 382.71L532.0 382.71L532.0 382.51L532.5 382.51L532.5 382.31L533.0 382.31L533.0 382.11L533.5 382.11L533.5 381.86L534.0 381.86L534.0 381.99L534.5 381.99L534.5 381.33L535.0 381.33L535.0 381.55L535.5 381.55L535.5 382.40L536.0 382.40L536.0 382.07L536.5 382.07L536.5 382.01L537.0 382.01L537.0 381.35L537.5 381.35L537.5 382.28L538.0 382.28L538.0 382.63L538.5 382.63L538.5 382.00L539.0 382.00L539.0 382.27L539.5 382.27L539.5 381.78L540.0 381.78L540.0 381.70L540.5 381.70L540.5 382.06L541.0 382.06L541.0 382.85L541.5 382.85L541.5 382.05L542.0 382.05L542.0 382.08L542.5 382.08L542.5 382.08L543.0 382.08L543.0 382.37L543.5 382.37L543.5 382.27L544.0 382.27L544.0 382.17L544.5 382.17L544.5 382.07L545.0 382.07L545.0 382.06L545.5 382.06L545.5 382.04L546.0 382.04L546.0 382.38L546.5 382.38L546.5 382.65L547.0 382.65L547.0 381.62L547.5 381.62L547.5 381.33L548.0 381.33L548.0 381.22L548.5 381.22L548.5 381.83L549.0 381.83L549.0 381.48L549.5 381.48L549.5 380.31L550.0 380.31L550.0 381.91L550.5 381.91L550.5 381.19L551.0 381.19L551.0 380.45L551.5 380.45L551.5 378.67L552.0 378.67L552.0 378.67L552.5 378.67L552.5 378.67L553.0 378.67L553.0 378.67L553.5 378.67L553.5 381.10L554.0 381.10L554.0 379.73L554.5 379.73L554.5 380.06L555.0 380.06L555.0 382.11L555.5 382.11L555.5 381.83L556.0 381.83L556.0 381.79L556.5 381.79L556.5 382.35L557.0 382.35L557.0 382.13L557.5 382.13L557.5 382.23L558.0 382.23L558.0 382.45L558.5 382.45L558.5 382.20L559.0 382.20L559.0 382.48L559.5 382.48L559.5 382.57L560.0 382.57L560.0 382.66L560.5 382.66L560.5 382.75L561.0 382.75L561.0 382.84L561.5 382.84L561.5 382.84L562.0 382.84L562.0 382.84L562.5 382.84L562.5 382.83L563.0 382.83L563.0 382.54L563.5 382.54L563.5 382.26L564.0 382.26L564.0 382.08L564.5 382.08L564.5 382.08L565.0 382.08L565.0 382.08L565.5 382.08L565.5 382.19L566.0 382.19L566.0 382.52L566.5 382.52L566.5 382.84L567.0 382.84L567.0 382.86L567.5 382.86L567.5 382.88L568.0 382.88L568.0 382.90L568.5 382.90L568.5 382.92L569.0 382.92L569.0 382.94L569.5 382.94L569.5 382.96L570.0 382.96L570.0 382.98L570.5 382.98L570.5 383.00L571.0 383.00L571.0 383.01L571.5 383.01L571.5 383.02L572.0 383.02L572.0 383.01L572.5 383.01L572.5 383.00L573.0 383.00L573.0 382.99L573.5 382.99L573.5 382.98L574.0 382.98L574.0 382.97L574.5 382.97L574.5 382.96L575.0 382.96L575.0 382.95L575.5 382.95L575.5 382.94L576.0 382.94L576.0 382.93L576.5 382.93L576.5 382.92L577.0 382.92L577.0 382.91L577.5 382.91L577.5 382.90L578.0 382.90L578.0 382.89L578.5 382.89L578.5 382.88L579.0 382.88L579.0 382.87L579.5 382.87L579.5 382.86L580.0 382.86L580.0 382.85L580.5 382.85L580.5 382.84L581.0 382.84L581.0 382.85L581.5 382.85L581.5 382.90L582.0 382.90L582.0 382.95L582.5 382.95L582.5 383.00L583.0 383.00L583.0 383.03L583.5 383.03L583.5 383.03L584.0 383.03L584.0 383.03L584.5 383.03L584.5 383.03L585.0 383.03L585.0 383.03L585.5 383.03L585.5 383.03L586.0 383.03L586.0 383.03L586.5 383.03L586.5 383.03L587.0 383.03L587.0 383.03L587.5 383.03L587.5 383.03L588.0 383.03L588.0 383.03L588.5 383.03L588.5 383.03L589.0 383.03L589.0 383.03L589.5 383.03L589.5 383.03L590.0 383.03L590.0 383.03L590.5 383.03L590.5 383.03L591.0 383.03L591.0 383.03L591.5 383.03L591.5 383.03L592.0 383.03L592.0 383.02L592.5 383.02L592.5 382.99L593.0 382.99L593.0 382.96L593.5 382.96L593.5 382.92L594.0 382.92L594.0 382.89L594.5 382.89L594.5 382.86L595.0 382.86L595.0 382.84L595.5 382.84L595.5 382.87L596.0 382.87L596.0 382.91L596.5 382.91L596.5 382.95L597.0 382.95L597.0 382.99L597.5 382.99L597.5 383.03L598.0 383.03L598.0 383.07L598.5 383.07L598.5 383.11L599.0 383.11L599.0 383.15L599.5 383.15L599.5 383.19L600.0 383.19L600.0 383.21L600.5 383.21L600.5 383.20L601.0 383.20L601.0 383.19L601.5 383.19L601.5 383.18L602.0 383.18L602.0 383.17L602.5 383.17L602.5 383.16L603.0 383.16L603.0 383.15L603.5 383.15L603.5 383.14L604.0 383.14L604.0 383.13L604.5 383.13L604.5 383.12L605.0 383.12L605.0 383.11L605.5 383.11L605.5 383.10L606.0 383.10L606.0 383.09L606.5 383.09L606.5 383.08L607.0 383.08L607.0 383.07L607.5 383.07L607.5 383.06L608.0 383.06L608.0 383.05L608.5 383.05L608.5 383.04L609.0 383.04L609.0 383.03L609.5 383.03L609.5 383.03L610.0 383.03L610.0 383.04L610.5 383.04L610.5 383.05L611.0 383.05L611.0 383.06L611.5 383.06L611.5 383.07L612.0 383.07L612.0 383.08L612.5 383.08L612.5 383.09L613.0 383.09L613.0 383.10L613.5 383.10L613.5 383.11L614.0 383.11L614.0 383.12L614.5 383.12L614.5 383.13L615.0 383.13L615.0 383.14L615.5 383.14L615.5 383.15L616.0 383.15L616.0 383.16L616.5 383.16L616.5 383.17L617.0 383.17L617.0 383.18L617.5 383.18L617.5 383.19L618.0 383.19L618.0 383.20L618.5 383.20L618.5 383.21L619.0 383.21L619.0 383.21L619.5 383.21L619.5 383.20L620.0 383.20L620.0 383.19L620.5 383.19L620.5 383.18L621.0 383.18L621.0 383.17L621.5 383.17L621.5 383.16L622.0 383.16L622.0 383.15L622.5 383.15L622.5 383.14L623.0 383.14L623.0 383.13L623.5 383.13L623.5 383.12L624.0 383.12L624.0 383.11L624.5 383.11L624.5 383.10L625.0 383.10L625.0 383.09L625.5 383.09L625.5 383.08L626.0 383.08L626.0 383.07L626.5 383.07L626.5 383.06L627.0 383.06L627.0 383.05L627.5 383.05L627.5 383.04L628.0 383.04L628.0 383.03L628.5 383.03L628.5 383.03L629.0 383.03L629.0 383.04L629.5 383.04L629.5 383.05L630.0 383.05L630.0 383.06L630.5 383.06L630.5 383.07L631.0 383.07L631.0 383.08L631.5 383.08L631.5 383.09L632.0 383.09L632.0 383.10L632.5 383.10L632.5 383.11L633.0 383.11L633.0 383.12L633.5 383.12L633.5 383.13L634.0 383.13L634.0 383.14L634.5 383.14L634.5 383.15L635.0 383.15L635.0 383.16L635.5 383.16L635.5 383.17L636.0 383.17L636.0 383.18L636.5 383.18L636.5 383.19L637.0 383.19L637.0 383.20L637.5 383.20L637.5 383.21L638.0 383.21L638.0 383.19L638.5 383.19L638.5 383.17L639.0 383.17L639.0 383.14L639.5 383.14L639.5 383.12L640.0 383.12L640.0 383.09L640.5 383.09L640.5 383.07L641.0 383.07L641.0 383.04L641.5 383.04L641.5 383.03L642.0 383.03L642.0 383.04L642.5 383.04L642.5 383.05L643.0 383.05L643.0 383.06L643.5 383.06L643.5 383.08L644.0 383.08L644.0 383.09L644.5 383.09L644.5 383.10L645.0 383.10L645.0 383.11L645.5 383.11L645.5 383.13L646.0 383.13L646.0 383.14L646.5 383.14L646.5 383.15L647.0 383.15L647.0 383.16L647.5 383.16L647.5 383.18L648.0 383.18L648.0 383.19L648.5 383.19L648.5 383.20L649.0 383.20L649.0 383.21L649.5 383.21L649.5 383.20L650.0 383.20L650.0 383.19L650.5 383.19L650.5 383.18L651.0 383.18L651.0 383.17L651.5 383.17L651.5 383.15L652.0 383.15L652.0 383.14L652.5 383.14L652.5 383.13L653.0 383.13L653.0 383.12L653.5 383.12L653.5 383.10L654.0 383.10L654.0 383.09L654.5 383.09L654.5 383.08L655.0 383.08L655.0 383.07L655.5 383.07L655.5 383.05L656.0 383.05L656.0 383.04L656.5 383.04L656.5 383.03L657.0 383.03L657.0 383.04L657.5 383.04L657.5 383.05L658.0 383.05L658.0 383.06L658.5 383.06L658.5 383.07L659.0 383.07L659.0 383.09L659.5 383.09L659.5 383.10L660.0 383.10L660.0 383.11L660.5 383.11L660.5 383.12L661.0 383.12L661.0 383.14L661.5 383.14L661.5 383.15L662.0 383.15L662.0 383.16L662.5 383.16L662.5 383.17L663.0 383.17L663.0 383.19L663.5 383.19L663.5 383.20L664.0 383.20L664.0 383.21L664.5 383.21L664.5 383.22L665.0 383.22L665.0 383.22L665.5 383.22L665.5 383.22L666.0 383.22L666.0 383.22L666.5 383.22L666.5 383.22L667.0 383.22L667.0 383.22L667.5 383.22L667.5 383.22L668.0 383.22L668.0 383.22L668.5 383.22L668.5 383.22L669.0 383.22L669.0 383.22L669.5 383.22L669.5 383.22L670.0 383.22L670.0 383.6 Z" fill="#000"/><path d="M417.0 411.4L417.0 411.02L417.5 411.02L417.5 411.02L418.0 411.02L418.0 411.02L418.5 411.02L418.5 411.02L419.0 411.02L419.0 411.02L419.5 411.02L419.5 411.02L420.0 411.02L420.0 411.02L420.5 411.02L420.5 410.16L421.0 410.16L421.0 410.21L421.5 410.21L421.5 408.74L422.0 408.74L422.0 408.74L422.5 408.74L422.5 408.74L423.0 408.74L423.0 408.74L423.5 408.74L423.5 409.22L424.0 409.22L424.0 410.21L424.5 410.21L424.5 411.02L425.0 411.02L425.0 411.02L425.5 411.02L425.5 411.02L426.0 411.02L426.0 411.02L426.5 411.02L426.5 411.02L427.0 411.02L427.0 411.02L427.5 411.02L427.5 411.02L428.0 411.02L428.0 411.02L428.5 411.02L428.5 411.02L429.0 411.02L429.0 411.02L429.5 411.02L429.5 411.02L430.0 411.02L430.0 411.02L430.5 411.02L430.5 411.02L431.0 411.02L431.0 411.02L431.5 411.02L431.5 411.02L432.0 411.02L432.0 411.00L432.5 411.00L432.5 410.99L433.0 410.99L433.0 410.97L433.5 410.97L433.5 410.95L434.0 410.95L434.0 410.94L434.5 410.94L434.5 410.92L435.0 410.92L435.0 410.90L435.5 410.90L435.5 410.89L436.0 410.89L436.0 410.87L436.5 410.87L436.5 410.85L437.0 410.85L437.0 410.84L437.5 410.84L437.5 410.80L438.0 410.80L438.0 410.75L438.5 410.75L438.5 410.70L439.0 410.70L439.0 410.65L439.5 410.65L439.5 410.60L440.0 410.60L440.0 410.55L440.5 410.55L440.5 410.50L441.0 410.50L441.0 410.45L441.5 410.45L441.5 410.47L442.0 410.47L442.0 410.57L442.5 410.57L442.5 410.67L443.0 410.67L443.0 410.77L443.5 410.77L443.5 410.83L444.0 410.83L444.0 410.83L444.5 410.83L444.5 410.83L445.0 410.83L445.0 410.83L445.5 410.83L445.5 410.83L446.0 410.83L446.0 410.83L446.5 410.83L446.5 410.83L447.0 410.83L447.0 410.83L447.5 410.83L447.5 410.83L448.0 410.83L448.0 410.83L448.5 410.83L448.5 410.83L449.0 410.83L449.0 410.83L449.5 410.83L449.5 410.83L450.0 410.83L450.0 410.83L450.5 410.83L450.5 410.83L451.0 410.83L451.0 410.73L451.5 410.73L451.5 410.63L452.0 410.63L452.0 410.53L452.5 410.53L452.5 410.45L453.0 410.45L453.0 410.49L453.5 410.49L453.5 410.59L454.0 410.59L454.0 410.69L454.5 410.69L454.5 410.79L455.0 410.79L455.0 410.83L455.5 410.83L455.5 410.83L456.0 410.83L456.0 410.83L456.5 410.83L456.5 410.83L457.0 410.83L457.0 410.83L457.5 410.83L457.5 410.83L458.0 410.83L458.0 410.83L458.5 410.83L458.5 410.71L459.0 410.71L459.0 410.56L459.5 410.56L459.5 410.41L460.0 410.41L460.0 410.26L460.5 410.26L460.5 410.29L461.0 410.29L461.0 410.44L461.5 410.44L461.5 410.59L462.0 410.59L462.0 410.74L462.5 410.74L462.5 410.83L463.0 410.83L463.0 410.83L463.5 410.83L463.5 410.83L464.0 410.83L464.0 410.83L464.5 410.83L464.5 410.83L465.0 410.83L465.0 410.83L465.5 410.83L465.5 410.83L466.0 410.83L466.0 410.83L466.5 410.83L466.5 410.83L467.0 410.83L467.0 410.83L467.5 410.83L467.5 410.83L468.0 410.83L468.0 410.83L468.5 410.83L468.5 410.83L469.0 410.83L469.0 410.83L469.5 410.83L469.5 410.83L470.0 410.83L470.0 410.83L470.5 410.83L470.5 410.83L471.0 410.83L471.0 410.17L471.5 410.17L471.5 409.52L472.0 409.52L472.0 410.34L472.5 410.34L472.5 410.34L473.0 410.34L473.0 410.83L473.5 410.83L473.5 410.83L474.0 410.83L474.0 410.83L474.5 410.83L474.5 410.83L475.0 410.83L475.0 410.83L475.5 410.83L475.5 410.83L476.0 410.83L476.0 410.83L476.5 410.83L476.5 410.83L477.0 410.83L477.0 410.83L477.5 410.83L477.5 410.58L478.0 410.58L478.0 410.28L478.5 410.28L478.5 410.32L479.0 410.32L479.0 410.72L479.5 410.72L479.5 411.02L480.0 411.02L480.0 411.02L480.5 411.02L480.5 411.02L481.0 411.02L481.0 411.02L481.5 411.02L481.5 411.02L482.0 411.02L482.0 411.02L482.5 411.02L482.5 411.02L483.0 411.02L483.0 411.02L483.5 411.02L483.5 411.02L484.0 411.02L484.0 411.02L484.5 411.02L484.5 411.02L485.0 411.02L485.0 411.02L485.5 411.02L485.5 411.02L486.0 411.02L486.0 411.02L486.5 411.02L486.5 411.02L487.0 411.02L487.0 411.02L487.5 411.02L487.5 411.02L488.0 411.02L488.0 411.02L488.5 411.02L488.5 411.02L489.0 411.02L489.0 411.00L489.5 411.00L489.5 410.99L490.0 410.99L490.0 410.97L490.5 410.97L490.5 410.95L491.0 410.95L491.0 410.94L491.5 410.94L491.5 410.92L492.0 410.92L492.0 410.90L492.5 410.90L492.5 410.89L493.0 410.89L493.0 410.87L493.5 410.87L493.5 410.85L494.0 410.85L494.0 410.84L494.5 410.84L494.5 410.83L495.0 410.83L495.0 410.84L495.5 410.84L495.5 410.85L496.0 410.85L496.0 410.87L496.5 410.87L496.5 410.88L497.0 410.88L497.0 410.89L497.5 410.89L497.5 410.90L498.0 410.90L498.0 410.92L498.5 410.92L498.5 410.93L499.0 410.93L499.0 410.94L499.5 410.94L499.5 410.95L500.0 410.95L500.0 410.97L500.5 410.97L500.5 410.98L501.0 410.98L501.0 410.99L501.5 410.99L501.5 411.00L502.0 411.00L502.0 411.01L502.5 411.01L502.5 411.00L503.0 411.00L503.0 410.98L503.5 410.98L503.5 410.96L504.0 410.96L504.0 410.95L504.5 410.95L504.5 410.93L505.0 410.93L505.0 410.91L505.5 410.91L505.5 410.90L506.0 410.90L506.0 410.88L506.5 410.88L506.5 410.86L507.0 410.86L507.0 410.85L507.5 410.85L507.5 410.83L508.0 410.83L508.0 410.79L508.5 410.79L508.5 410.76L509.0 410.76L509.0 410.73L509.5 410.73L509.5 410.69L510.0 410.69L510.0 410.66L510.5 410.66L510.5 410.47L511.0 410.47L511.0 410.07L511.5 410.07L511.5 409.88L512.0 409.88L512.0 409.88L512.5 409.88L512.5 409.88L513.0 409.88L513.0 409.69L513.5 409.69L513.5 409.14L514.0 409.14L514.0 410.48L514.5 410.48L514.5 410.32L515.0 410.32L515.0 410.21L515.5 410.21L515.5 410.26L516.0 410.26L516.0 410.26L516.5 410.26L516.5 410.26L517.0 410.26L517.0 410.27L517.5 410.27L517.5 410.40L518.0 410.40L518.0 410.52L518.5 410.52L518.5 410.30L519.0 410.30L519.0 408.74L519.5 408.74L519.5 408.74L520.0 408.74L520.0 408.74L520.5 408.74L520.5 408.74L521.0 408.74L521.0 408.74L521.5 408.74L521.5 410.11L522.0 410.11L522.0 410.49L522.5 410.49L522.5 410.49L523.0 410.49L523.0 410.40L523.5 410.40L523.5 410.31L524.0 410.31L524.0 409.50L524.5 409.50L524.5 408.98L525.0 408.98L525.0 407.60L525.5 407.60L525.5 407.60L526.0 407.60L526.0 409.59L526.5 409.59L526.5 406.85L527.0 406.85L527.0 406.85L527.5 406.85L527.5 406.85L528.0 406.85L528.0 406.85L528.5 406.85L528.5 407.82L529.0 407.82L529.0 408.88L529.5 408.88L529.5 410.49L530.0 410.49L530.0 410.47L530.5 410.47L530.5 409.28L531.0 409.28L531.0 409.38L531.5 409.38L531.5 408.74L532.0 408.74L532.0 408.74L532.5 408.74L532.5 408.74L533.0 408.74L533.0 408.74L533.5 408.74L533.5 409.18L534.0 409.18L534.0 410.21L534.5 410.21L534.5 410.60L535.0 410.60L535.0 410.41L535.5 410.41L535.5 409.84L536.0 409.84L536.0 410.24L536.5 410.24L536.5 409.37L537.0 409.37L537.0 408.00L537.5 408.00L537.5 408.83L538.0 408.83L538.0 409.76L538.5 409.76L538.5 409.32L539.0 409.32L539.0 406.52L539.5 406.52L539.5 407.92L540.0 407.92L540.0 409.33L540.5 409.33L540.5 405.21L541.0 405.21L541.0 403.81L541.5 403.81L541.5 403.81L542.0 403.81L542.0 403.81L542.5 403.81L542.5 403.81L543.0 403.81L543.0 409.84L543.5 409.84L543.5 410.26L544.0 410.26L544.0 409.50L544.5 409.50L544.5 408.74L545.0 408.74L545.0 408.74L545.5 408.74L545.5 408.74L546.0 408.74L546.0 408.74L546.5 408.74L546.5 408.74L547.0 408.74L547.0 410.12L547.5 410.12L547.5 408.46L548.0 408.46L548.0 408.89L548.5 408.89L548.5 404.41L549.0 404.41L549.0 404.70L549.5 404.70L549.5 402.85L550.0 402.85L550.0 404.55L550.5 404.55L550.5 397.02L551.0 397.02L551.0 399.64L551.5 399.64L551.5 392.58L552.0 392.58L552.0 392.57L552.5 392.57L552.5 398.90L553.0 398.90L553.0 385.97L553.5 385.97L553.5 385.97L554.0 385.97L554.0 395.86L554.5 395.86L554.5 402.58L555.0 402.58L555.0 398.60L555.5 398.60L555.5 391.66L556.0 391.66L556.0 391.66L556.5 391.66L556.5 395.45L557.0 395.45L557.0 392.50L557.5 392.50L557.5 404.25L558.0 404.25L558.0 407.01L558.5 407.01L558.5 406.50L559.0 406.50L559.0 408.40L559.5 408.40L559.5 408.86L560.0 408.86L560.0 407.65L560.5 407.65L560.5 409.04L561.0 409.04L561.0 410.26L561.5 410.26L561.5 410.26L562.0 410.26L562.0 410.14L562.5 410.14L562.5 409.98L563.0 409.98L563.0 410.33L563.5 410.33L563.5 408.04L564.0 408.04L564.0 408.66L564.5 408.66L564.5 409.47L565.0 409.47L565.0 409.24L565.5 409.24L565.5 406.47L566.0 406.47L566.0 406.47L566.5 406.47L566.5 406.47L567.0 406.47L567.0 407.63L567.5 407.63L567.5 410.36L568.0 410.36L568.0 409.64L568.5 409.64L568.5 408.21L569.0 408.21L569.0 407.34L569.5 407.34L569.5 409.06L570.0 409.06L570.0 410.31L570.5 410.31L570.5 409.88L571.0 409.88L571.0 409.88L571.5 409.88L571.5 408.79L572.0 408.79L572.0 406.09L572.5 406.09L572.5 406.09L573.0 406.09L573.0 406.09L573.5 406.09L573.5 407.93L574.0 407.93L574.0 408.86L574.5 408.86L574.5 408.36L575.0 408.36L575.0 408.36L575.5 408.36L575.5 408.36L576.0 408.36L576.0 408.36L576.5 408.36L576.5 410.37L577.0 410.37L577.0 410.38L577.5 410.38L577.5 410.64L578.0 410.64L578.0 410.64L578.5 410.64L578.5 410.64L579.0 410.64L579.0 409.86L579.5 409.86L579.5 409.69L580.0 409.69L580.0 408.74L580.5 408.74L580.5 408.74L581.0 408.74L581.0 409.66L581.5 409.66L581.5 409.93L582.0 409.93L582.0 409.99L582.5 409.99L582.5 409.50L583.0 409.50L583.0 409.50L583.5 409.50L583.5 409.50L584.0 409.50L584.0 409.50L584.5 409.50L584.5 409.50L585.0 409.50L585.0 409.86L585.5 409.86L585.5 410.44L586.0 410.44L586.0 410.04L586.5 410.04L586.5 409.88L587.0 409.88L587.0 410.28L587.5 410.28L587.5 410.76L588.0 410.76L588.0 410.66L588.5 410.66L588.5 410.64L589.0 410.64L589.0 410.72L589.5 410.72L589.5 410.50L590.0 410.50L590.0 409.89L590.5 409.89L590.5 409.97L591.0 409.97L591.0 410.39L591.5 410.39L591.5 410.80L592.0 410.80L592.0 410.83L592.5 410.83L592.5 410.83L593.0 410.83L593.0 410.83L593.5 410.83L593.5 410.48L594.0 410.48L594.0 410.27L594.5 410.27L594.5 410.47L595.0 410.47L595.0 410.80L595.5 410.80L595.5 410.94L596.0 410.94L596.0 410.87L596.5 410.87L596.5 410.80L597.0 410.80L597.0 410.72L597.5 410.72L597.5 410.65L598.0 410.65L598.0 410.64L598.5 410.64L598.5 410.74L599.0 410.74L599.0 410.84L599.5 410.84L599.5 410.94L600.0 410.94L600.0 410.71L600.5 410.71L600.5 410.41L601.0 410.41L601.0 410.11L601.5 410.11L601.5 409.88L602.0 409.88L602.0 409.88L602.5 409.88L602.5 409.88L603.0 409.88L603.0 409.88L603.5 409.88L603.5 409.88L604.0 409.88L604.0 410.20L604.5 410.20L604.5 410.70L605.0 410.70L605.0 410.99L605.5 410.99L605.5 410.96L606.0 410.96L606.0 410.94L606.5 410.94L606.5 410.91L607.0 410.91L607.0 410.88L607.5 410.88L607.5 410.86L608.0 410.86L608.0 410.83L608.5 410.83L608.5 410.27L609.0 410.27L609.0 408.74L609.5 408.74L609.5 408.74L610.0 408.74L610.0 408.74L610.5 408.74L610.5 409.17L611.0 409.17L611.0 410.23L611.5 410.23L611.5 410.70L612.0 410.70L612.0 410.64L612.5 410.64L612.5 410.72L613.0 410.72L613.0 410.86L613.5 410.86L613.5 410.98L614.0 410.98L614.0 410.91L614.5 410.91L614.5 410.85L615.0 410.85L615.0 410.83L615.5 410.83L615.5 410.83L616.0 410.83L616.0 410.83L616.5 410.83L616.5 410.83L617.0 410.83L617.0 410.83L617.5 410.83L617.5 410.83L618.0 410.83L618.0 410.83L618.5 410.83L618.5 410.83L619.0 410.83L619.0 410.84L619.5 410.84L619.5 410.86L620.0 410.86L620.0 410.89L620.5 410.89L620.5 410.91L621.0 410.91L621.0 410.94L621.5 410.94L621.5 410.96L622.0 410.96L622.0 410.99L622.5 410.99L622.5 411.01L623.0 411.01L623.0 411.00L623.5 411.00L623.5 410.98L624.0 410.98L624.0 410.96L624.5 410.96L624.5 410.95L625.0 410.95L625.0 410.93L625.5 410.93L625.5 410.91L626.0 410.91L626.0 410.90L626.5 410.90L626.5 410.88L627.0 410.88L627.0 410.86L627.5 410.86L627.5 410.85L628.0 410.85L628.0 410.83L628.5 410.83L628.5 410.83L629.0 410.83L629.0 410.84L629.5 410.84L629.5 410.85L630.0 410.85L630.0 410.86L630.5 410.86L630.5 410.87L631.0 410.87L631.0 410.88L631.5 410.88L631.5 410.89L632.0 410.89L632.0 410.90L632.5 410.90L632.5 410.91L633.0 410.91L633.0 410.92L633.5 410.92L633.5 410.93L634.0 410.93L634.0 410.94L634.5 410.94L634.5 410.95L635.0 410.95L635.0 410.96L635.5 410.96L635.5 410.97L636.0 410.97L636.0 410.98L636.5 410.98L636.5 410.99L637.0 410.99L637.0 411.00L637.5 411.00L637.5 411.01L638.0 411.01L638.0 411.02L638.5 411.02L638.5 411.02L639.0 411.02L639.0 411.02L639.5 411.02L639.5 411.02L640.0 411.02L640.0 411.02L640.5 411.02L640.5 411.02L641.0 411.02L641.0 411.02L641.5 411.02L641.5 411.02L642.0 411.02L642.0 411.02L642.5 411.02L642.5 411.02L643.0 411.02L643.0 411.02L643.5 411.02L643.5 411.02L644.0 411.02L644.0 411.02L644.5 411.02L644.5 411.02L645.0 411.02L645.0 411.02L645.5 411.02L645.5 411.01L646.0 411.01L646.0 411.00L646.5 411.00L646.5 411.00L647.0 411.00L647.0 410.99L647.5 410.99L647.5 410.98L648.0 410.98L648.0 410.97L648.5 410.97L648.5 410.96L649.0 410.96L649.0 410.95L649.5 410.95L649.5 410.95L650.0 410.95L650.0 410.94L650.5 410.94L650.5 410.93L651.0 410.93L651.0 410.92L651.5 410.92L651.5 410.91L652.0 410.91L652.0 410.90L652.5 410.90L652.5 410.90L653.0 410.90L653.0 410.89L653.5 410.89L653.5 410.88L654.0 410.88L654.0 410.87L654.5 410.87L654.5 410.86L655.0 410.86L655.0 410.85L655.5 410.85L655.5 410.85L656.0 410.85L656.0 410.84L656.5 410.84L656.5 410.83L657.0 410.83L657.0 410.81L657.5 410.81L657.5 410.79L658.0 410.79L658.0 410.78L658.5 410.78L658.5 410.76L659.0 410.76L659.0 410.74L659.5 410.74L659.5 410.73L660.0 410.73L660.0 410.71L660.5 410.71L660.5 410.69L661.0 410.69L661.0 410.68L661.5 410.68L661.5 410.66L662.0 410.66L662.0 410.64L662.5 410.64L662.5 410.64L663.0 410.64L663.0 410.69L663.5 410.69L663.5 410.74L664.0 410.74L664.0 410.79L664.5 410.79L664.5 410.84L665.0 410.84L665.0 410.89L665.5 410.89L665.5 410.94L666.0 410.94L666.0 410.99L666.5 410.99L666.5 411.02L667.0 411.02L667.0 411.02L667.5 411.02L667.5 411.02L668.0 411.02L668.0 411.02L668.5 411.02L668.5 411.02L669.0 411.02L669.0 411.02L669.5 411.02L669.5 411.02L670.0 411.02L670.0 411.4 Z" fill="#000"/><rect x="422.1" y="466.2" width="2.7" height="6.8" fill="#1c6fcf"/><rect x="425.9" y="466.2" width="3.0" height="6.8" fill="#1c6fcf"/><rect x="452.1" y="466.2" width="3.0" height="6.8" fill="#1c6fcf"/><rect x="457.8" y="466.2" width="3.0" height="6.8" fill="#1c6fcf"/><rect x="510.2" y="466.2" width="3.0" height="6.8" fill="#1c6fcf"/><rect x="516.2" y="466.2" width="3.0" height="6.8" fill="#1c6fcf"/><rect x="524.2" y="466.2" width="3.0" height="6.8" fill="#1c6fcf"/><rect x="608.7" y="466.2" width="3.0" height="6.8" fill="#1c6fcf"/><rect x="645.9" y="466.2" width="3.0" height="6.8" fill="#1c6fcf"/><rect x="432.0" y="495.8" width="3.0" height="4.6" fill="#1c6fcf"/><rect x="465.4" y="495.8" width="3.0" height="4.6" fill="#1c6fcf"/><rect x="471.8" y="495.8" width="3.0" height="4.6" fill="#1c6fcf"/><rect x="479.4" y="495.8" width="4.6" height="4.6" fill="#1c6fcf"/><rect x="480.9" y="490.9" width="1.5" height="9.5" fill="#1c6fcf"/><rect x="491.6" y="495.8" width="2.7" height="4.6" fill="#1c6fcf"/><rect x="518.9" y="495.8" width="3.0" height="4.6" fill="#1c6fcf"/><rect x="581.7" y="495.8" width="2.3" height="4.6" fill="#1c6fcf"/><rect x="590.1" y="495.8" width="3.0" height="4.6" fill="#1c6fcf"/><rect x="594.2" y="495.8" width="3.0" height="4.6" fill="#1c6fcf"/><rect x="458.9" y="519.3" width="3.0" height="8.4" fill="#1c6fcf"/><rect x="504.1" y="519.3" width="5.7" height="8.4" fill="#1c6fcf"/><rect x="505.2" y="511.0" width="3.0" height="16.7" fill="#1c6fcf"/><rect x="506.4" y="503.0" width="1.1" height="24.7" fill="#1c6fcf"/><rect x="512.8" y="519.3" width="3.0" height="8.4" fill="#1c6fcf"/><rect x="518.5" y="519.3" width="3.0" height="8.4" fill="#1c6fcf"/><rect x="539.8" y="519.3" width="4.2" height="8.4" fill="#1c6fcf"/><rect x="540.5" y="511.0" width="3.4" height="16.7" fill="#1c6fcf"/><rect x="541.7" y="503.0" width="2.3" height="24.7" fill="#1c6fcf"/><rect x="543.0" y="519.3" width="3.4" height="8.4" fill="#1c6fcf"/><rect x="543.0" y="511.0" width="1.5" height="16.7" fill="#1c6fcf"/><rect x="543.0" y="503.0" width="0.8" height="24.7" fill="#1c6fcf"/><rect x="552.1" y="519.3" width="5.7" height="8.4" fill="#1c6fcf"/><rect x="554.4" y="511.0" width="1.1" height="16.7" fill="#1c6fcf"/><rect x="558.9" y="519.3" width="2.7" height="8.4" fill="#1c6fcf"/><rect x="563.5" y="519.3" width="4.9" height="8.4" fill="#1c6fcf"/><rect x="565.4" y="511.0" width="1.1" height="16.7" fill="#1c6fcf"/><rect x="581.0" y="519.3" width="6.8" height="8.4" fill="#1c6fcf"/><rect x="581.7" y="511.0" width="3.4" height="16.7" fill="#1c6fcf"/><rect x="581.7" y="503.0" width="1.9" height="24.7" fill="#1c6fcf"/><rect x="594.6" y="519.3" width="4.2" height="8.4" fill="#1c6fcf"/><rect x="595.8" y="511.0" width="1.9" height="16.7" fill="#1c6fcf"/><rect x="609.0" y="519.3" width="3.0" height="8.4" fill="#1c6fcf"/><rect x="615.5" y="519.3" width="5.3" height="8.4" fill="#1c6fcf"/><rect x="616.3" y="511.0" width="3.4" height="16.7" fill="#1c6fcf"/><rect x="617.8" y="503.0" width="0.8" height="24.7" fill="#1c6fcf"/><rect x="662.6" y="519.3" width="3.0" height="8.4" fill="#1c6fcf"/><path d="M424.8 589.3L424.8 589.3L425.5 588.2L428.9 588.2L429.7 589.3L571.5 589.3L572.4 587.8L576.2 587.8L577.2 589.2L591.6 589.2L592.7 587.8L594.2 587.0L596.1 586.1L598.4 586.1L599.6 587.4L600.3 589.2L604.5 589.2L605.2 587.8L609.0 587.8L609.8 589.2L662.2 589.2L662.9 587.8L667.1 587.8L667.9 589.3L667.9 589.3 Z" fill="#008000"/><path d="M470.9 616.6L470.9 616.6L471.8 615.7L475.6 615.7L476.6 616.4L477.1 616.4L477.5 615.7L480.9 615.7L481.7 616.5L523.8 616.5L524.6 615.7L531.6 615.7L532.6 616.5L543.0 616.4L543.0 615.8L546.0 615.8L546.8 614.7L547.9 613.6L549.5 613.6L550.6 614.7L552.1 614.3L553.6 615.1L555.1 614.3L556.7 614.7L558.2 614.3L559.3 613.6L560.8 613.6L562.0 614.3L563.5 614.3L565.0 613.9L566.5 614.7L567.7 615.5L569.6 615.8L571.5 615.8L573.0 616.0L574.3 614.7L575.3 614.1L577.2 614.1L578.3 615.8L581.0 616.0L581.9 615.1L583.2 614.7L584.4 614.3L585.5 615.1L586.6 616.0L588.5 616.4L604.7 616.4L605.6 615.7L608.5 615.7L609.4 616.6L609.4 616.6 Z" fill="#008000"/><path d="M427.2 643.9L427.2 643.9L428.2 642.8L432.0 642.8L433.1 643.8L437.7 643.8L438.6 642.8L442.4 642.8L443.4 643.8L466.5 643.8L467.7 642.8L471.1 642.8L472.2 643.8L497.6 643.8L498.8 642.8L501.8 642.8L502.6 642.8L503.3 641.6L504.5 640.5L505.6 639.3L506.8 640.9L507.9 642.8L509.0 643.7L528.8 643.7L529.7 642.8L531.0 641.6L532.6 641.2L534.5 641.6L535.6 640.1L536.7 638.6L537.9 637.1L539.0 635.9L540.2 636.3L541.3 635.5L543.0 635.9L543.0 634.4L543.8 632.5L544.5 631.4L545.3 631.4L546.0 634.4L546.4 636.3L547.2 640.1L547.9 639.3L548.7 638.6L549.8 638.6L550.6 640.9L551.0 642.0L552.5 643.1L553.6 642.8L554.4 642.0L555.1 639.7L556.3 636.3L557.0 632.5L557.8 628.7L558.4 623.0L558.9 618.5L560.5 618.5L561.0 620.4L561.6 621.1L562.2 624.9L562.7 626.8L563.3 630.6L563.9 634.4L564.4 637.4L565.0 639.3L565.8 640.1L566.7 640.5L567.7 640.9L568.6 640.5L569.4 639.3L569.9 638.2L570.5 635.5L571.1 633.7L572.4 633.7L573.0 636.3L573.4 638.2L573.9 640.5L574.3 642.0L574.9 642.4L575.6 642.4L576.2 640.9L576.8 639.0L578.3 639.0L578.9 640.5L579.4 642.0L580.0 643.0L580.6 643.5L581.9 643.0L587.6 643.0L588.5 643.9L588.5 643.9 Z" fill="#008000"/><path d="M545.7 760.4V735.8H548.7L548.9 743.4H550L550.2 751.8H551V760.4Z" fill="#b2222a"/><line x1="416.9" y1="356.40" x2="671.0" y2="356.40" stroke="#2a2a2a" stroke-width="0.8"/><line x1="416.9" y1="383.60" x2="671.0" y2="383.60" stroke="#2a2a2a" stroke-width="0.8"/><line x1="416.9" y1="411.40" x2="671.0" y2="411.40" stroke="#2a2a2a" stroke-width="0.8"/><line x1="416.9" y1="473.00" x2="671.0" y2="473.00" stroke="#2a2a2a" stroke-width="0.8"/><line x1="416.9" y1="500.40" x2="671.0" y2="500.40" stroke="#2a2a2a" stroke-width="0.8"/><line x1="416.9" y1="527.70" x2="671.0" y2="527.70" stroke="#2a2a2a" stroke-width="0.8"/><line x1="416.9" y1="589.30" x2="671.0" y2="589.30" stroke="#2a2a2a" stroke-width="0.8"/><line x1="416.9" y1="616.60" x2="671.0" y2="616.60" stroke="#2a2a2a" stroke-width="0.8"/><line x1="416.9" y1="643.90" x2="671.0" y2="643.90" stroke="#2a2a2a" stroke-width="0.8"/><line x1="416.9" y1="705.60" x2="671.0" y2="705.60" stroke="#2a2a2a" stroke-width="0.8"/><line x1="416.9" y1="733.30" x2="671.0" y2="733.30" stroke="#2a2a2a" stroke-width="0.8"/><line x1="416.9" y1="760.40" x2="671.0" y2="760.40" stroke="#2a2a2a" stroke-width="0.8"/><path d="M417.2 775.1H545.0" stroke="#ababab" stroke-width="0.8" fill="none"/><path d="M424.2 772.9L421.4 775.1L424.2 777.3M434.5 772.9L431.7 775.1L434.5 777.3M444.9 772.9L442.1 775.1L444.9 777.3M455.2 772.9L452.4 775.1L455.2 777.3M465.5 772.9L462.7 775.1L465.5 777.3M475.8 772.9L473.0 775.1L475.8 777.3M486.2 772.9L483.4 775.1L486.2 777.3M496.5 772.9L493.7 775.1L496.5 777.3M506.8 772.9L504.0 775.1L506.8 777.3M517.2 772.9L514.4 775.1L517.2 777.3M527.5 772.9L524.7 775.1L527.5 777.3M537.8 772.9L535.0 775.1L537.8 777.3" stroke="#a6a6a6" stroke-width="0.9" fill="none"/><rect x="545.0" y="769.5" width="6.1" height="11" fill="#000"/><text x="555.2" y="801.4" font-size="16.3" font-style="italic" text-anchor="middle" fill="#000" stroke="#000" stroke-width="0.3">CDH18</text></svg>
</body></html>
